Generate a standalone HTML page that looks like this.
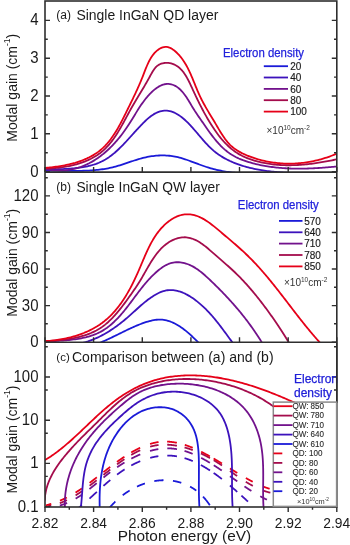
<!DOCTYPE html><html><head><meta charset="utf-8"><style>html,body{margin:0;padding:0;background:#fff;}svg{display:block;}text{font-family:"Liberation Sans",sans-serif;}svg{will-change:transform;}</style></head><body><svg width="350" height="545" viewBox="0 0 350 545"><rect width="350" height="545" fill="#fff"/><defs><clipPath id="ca"><rect x="45.0" y="1.0" width="291.8" height="171.1"/></clipPath><clipPath id="cb"><rect x="45.0" y="172.1" width="291.8" height="170.20000000000002"/></clipPath><clipPath id="cc"><rect x="45.0" y="342.3" width="291.8" height="164.7"/></clipPath></defs><g clip-path="url(#ca)"><path d="M45.58,170.70 L47.08,170.68 L48.58,170.67 L50.09,170.66 L51.59,170.66 L53.09,170.66 L54.59,170.66 L56.10,170.68 L57.60,170.69 L59.11,170.71 L60.61,170.72 L62.11,170.74 L63.62,170.76 L65.12,170.78 L66.62,170.80 L68.13,170.82 L69.63,170.84 L71.13,170.85 L72.63,170.86 L74.13,170.86 L75.63,170.86 L77.13,170.85 L78.63,170.84 L80.13,170.82 L81.62,170.80 L83.12,170.76 L84.61,170.72 L86.11,170.67 L87.60,170.60 L89.09,170.53 L90.57,170.44 L92.06,170.34 L93.55,170.23 L95.03,170.11 L96.51,169.97 L97.99,169.81 L99.47,169.64 L100.94,169.46 L102.42,169.25 L103.89,169.03 L105.35,168.79 L106.82,168.54 L108.28,168.26 L109.75,167.96 L111.20,167.64 L112.66,167.30 L114.11,166.94 L115.56,166.55 L117.01,166.15 L118.46,165.72 L119.90,165.28 L121.34,164.83 L122.78,164.36 L124.22,163.88 L125.66,163.40 L127.10,162.92 L128.53,162.43 L129.97,161.94 L131.41,161.46 L132.85,160.98 L134.28,160.51 L135.72,160.04 L137.17,159.59 L138.61,159.16 L140.05,158.74 L141.50,158.34 L142.95,157.97 L144.40,157.61 L145.86,157.28 L147.32,156.98 L148.78,156.70 L150.24,156.45 L151.70,156.22 L153.17,156.03 L154.63,155.86 L156.10,155.71 L157.56,155.60 L159.03,155.51 L160.49,155.46 L161.96,155.43 L163.42,155.44 L164.89,155.47 L166.35,155.54 L167.81,155.63 L169.27,155.76 L170.72,155.93 L172.17,156.12 L173.62,156.35 L175.07,156.61 L176.51,156.91 L177.95,157.24 L179.39,157.60 L180.82,157.99 L182.25,158.40 L183.68,158.84 L185.11,159.29 L186.53,159.77 L187.96,160.26 L189.38,160.76 L190.80,161.28 L192.22,161.80 L193.64,162.33 L195.06,162.87 L196.48,163.40 L197.91,163.94 L199.33,164.47 L200.75,164.99 L202.18,165.51 L203.61,166.02 L205.04,166.51 L206.47,166.99 L207.90,167.45 L209.34,167.89 L210.78,168.31 L212.22,168.72 L213.67,169.10 L215.12,169.46 L216.57,169.81 L218.02,170.14 L219.48,170.45 L220.94,170.75 L222.40,171.03 L223.86,171.29 L225.33,171.54 L226.79,171.77 L228.26,171.99 L229.73,172.20 L231.21,172.39 L232.68,172.56 L234.16,172.73 L235.64,172.88 L237.12,173.01 L238.61,173.14 L240.09,173.26 L241.58,173.36 L243.06,173.45 L244.55,173.54 L246.05,173.61 L247.54,173.67 L249.03,173.73 L250.53,173.77 L252.02,173.81 L253.52,173.84 L255.02,173.86 L256.52,173.87 L258.02,173.88 L259.52,173.88 L261.02,173.88 L262.53,173.87 L264.03,173.85 L265.54,173.84 L267.04,173.81 L268.55,173.78 L270.05,173.75 L271.56,173.72 L273.07,173.68 L274.58,173.64 L276.08,173.60 L277.59,173.56 L279.10,173.51 L280.61,173.47 L282.12,173.42 L283.63,173.38 L285.14,173.33 L286.64,173.29 L288.15,173.25 L289.66,173.21 L291.17,173.17 L292.68,173.14 L294.18,173.10 L295.69,173.07 L297.20,173.05 L298.70,173.03 L300.21,173.01 L301.71,173.00 L303.22,172.99 L304.72,172.99 L306.22,172.99 L307.72,173.00 L309.22,173.02 L310.72,173.05 L312.22,173.08 L313.72,173.12 L315.21,173.17 L316.71,173.23 L318.20,173.30 L319.69,173.38 L321.19,173.47 L322.67,173.56 L324.16,173.67 L325.65,173.80 L327.13,173.93 L328.62,174.07 L330.10,174.23 L331.58,174.40 L333.05,174.58 L334.53,174.78 L336.00,174.99" fill="none" stroke="#1a1ad8" stroke-width="1.8" stroke-linejoin="round" stroke-linecap="round"/><path d="M45.61,169.77 L46.95,169.70 L48.32,169.63 L49.70,169.57 L51.10,169.51 L52.53,169.45 L53.97,169.40 L55.42,169.35 L56.90,169.29 L58.38,169.24 L59.88,169.18 L61.38,169.12 L62.90,169.05 L64.43,168.97 L65.96,168.89 L67.50,168.80 L69.04,168.70 L70.59,168.58 L72.14,168.46 L73.69,168.32 L75.23,168.16 L76.78,168.00 L78.32,167.81 L79.86,167.60 L81.40,167.38 L82.92,167.13 L84.44,166.87 L85.95,166.58 L87.45,166.26 L88.93,165.92 L90.40,165.56 L91.86,165.17 L93.30,164.74 L94.72,164.29 L96.13,163.81 L97.51,163.29 L98.88,162.74 L100.22,162.16 L101.54,161.54 L102.83,160.89 L104.10,160.20 L105.36,159.48 L106.59,158.73 L107.80,157.95 L109.00,157.14 L110.18,156.30 L111.34,155.44 L112.49,154.55 L113.62,153.64 L114.74,152.71 L115.84,151.75 L116.94,150.77 L118.02,149.78 L119.09,148.77 L120.15,147.73 L121.21,146.69 L122.26,145.63 L123.30,144.55 L124.33,143.47 L125.37,142.37 L126.39,141.26 L127.42,140.15 L128.44,139.02 L129.46,137.89 L130.48,136.76 L131.51,135.62 L132.53,134.48 L133.56,133.33 L134.59,132.19 L135.62,131.05 L136.66,129.91 L137.71,128.77 L138.76,127.64 L139.82,126.51 L140.89,125.39 L141.97,124.27 L143.06,123.17 L144.16,122.07 L145.28,121.00 L146.41,119.94 L147.55,118.92 L148.71,117.92 L149.89,116.97 L151.08,116.06 L152.30,115.20 L153.54,114.39 L154.80,113.65 L156.08,112.98 L157.39,112.38 L158.72,111.86 L160.07,111.42 L161.44,111.07 L162.82,110.81 L164.21,110.65 L165.60,110.60 L166.98,110.65 L168.36,110.81 L169.73,111.08 L171.09,111.44 L172.43,111.88 L173.77,112.42 L175.09,113.03 L176.40,113.71 L177.69,114.46 L178.96,115.27 L180.21,116.13 L181.44,117.04 L182.65,118.00 L183.84,118.99 L185.00,120.01 L186.14,121.06 L187.25,122.12 L188.33,123.21 L189.40,124.31 L190.44,125.42 L191.47,126.54 L192.49,127.68 L193.49,128.82 L194.49,129.97 L195.48,131.12 L196.47,132.27 L197.45,133.43 L198.43,134.59 L199.40,135.74 L200.38,136.89 L201.36,138.04 L202.34,139.18 L203.33,140.31 L204.32,141.44 L205.32,142.55 L206.33,143.65 L207.36,144.73 L208.39,145.80 L209.43,146.85 L210.49,147.88 L211.57,148.89 L212.67,149.88 L213.78,150.85 L214.91,151.79 L216.07,152.70 L217.25,153.59 L218.45,154.45 L219.67,155.28 L220.91,156.09 L222.17,156.87 L223.44,157.62 L224.74,158.35 L226.05,159.06 L227.37,159.74 L228.71,160.40 L230.05,161.04 L231.42,161.65 L232.79,162.24 L234.17,162.81 L235.56,163.36 L236.96,163.89 L238.36,164.40 L239.77,164.89 L241.18,165.36 L242.60,165.81 L244.03,166.24 L245.46,166.66 L246.89,167.05 L248.33,167.43 L249.77,167.80 L251.22,168.14 L252.67,168.48 L254.13,168.79 L255.59,169.09 L257.05,169.38 L258.51,169.65 L259.98,169.91 L261.45,170.16 L262.93,170.39 L264.41,170.61 L265.89,170.82 L267.37,171.02 L268.86,171.20 L270.34,171.38 L271.83,171.54 L273.33,171.70 L274.82,171.84 L276.32,171.98 L277.81,172.11 L279.31,172.23 L280.81,172.34 L282.32,172.45 L283.82,172.55 L285.32,172.64 L286.83,172.73 L288.33,172.81 L289.84,172.88 L291.34,172.95 L292.85,173.02 L294.35,173.08 L295.86,173.14 L297.37,173.20 L298.87,173.25 L300.38,173.31 L301.88,173.36 L303.39,173.41 L304.89,173.45 L306.39,173.50 L307.89,173.55 L309.39,173.60 L310.89,173.65 L312.38,173.70 L313.88,173.75 L315.37,173.80 L316.86,173.86 L318.35,173.92 L319.84,173.99 L321.32,174.05 L322.80,174.12 L324.28,174.20 L325.75,174.28 L327.23,174.37 L328.69,174.46 L330.16,174.56 L331.62,174.67 L333.08,174.78 L334.54,174.90 L335.99,175.03" fill="none" stroke="#3c12bc" stroke-width="1.8" stroke-linejoin="round" stroke-linecap="round"/><path d="M45.60,169.00 L47.29,169.34 L48.97,169.63 L50.64,169.87 L52.29,170.08 L53.93,170.24 L55.55,170.36 L57.16,170.45 L58.76,170.49 L60.34,170.49 L61.91,170.46 L63.46,170.39 L65.00,170.28 L66.53,170.13 L68.05,169.95 L69.55,169.73 L71.03,169.47 L72.51,169.19 L73.97,168.86 L75.41,168.51 L76.85,168.12 L78.27,167.70 L79.67,167.25 L81.06,166.77 L82.44,166.25 L83.81,165.71 L85.16,165.14 L86.50,164.54 L87.83,163.91 L89.14,163.26 L90.44,162.57 L91.72,161.87 L92.99,161.13 L94.25,160.37 L95.50,159.59 L96.73,158.78 L97.95,157.95 L99.16,157.10 L100.35,156.22 L101.53,155.32 L102.70,154.41 L103.85,153.47 L104.99,152.51 L106.12,151.53 L107.23,150.54 L108.33,149.52 L109.42,148.49 L110.49,147.44 L111.56,146.38 L112.60,145.30 L113.64,144.20 L114.66,143.09 L115.67,141.97 L116.67,140.83 L117.65,139.68 L118.62,138.52 L119.58,137.34 L120.53,136.16 L121.46,134.96 L122.38,133.76 L123.29,132.54 L124.18,131.32 L125.06,130.09 L125.93,128.85 L126.79,127.61 L127.63,126.36 L128.46,125.10 L129.28,123.84 L130.08,122.57 L130.88,121.30 L131.66,120.02 L132.45,118.75 L133.22,117.47 L134.00,116.20 L134.77,114.92 L135.55,113.65 L136.32,112.38 L137.11,111.11 L137.90,109.84 L138.70,108.59 L139.51,107.33 L140.33,106.09 L141.16,104.85 L142.02,103.62 L142.89,102.40 L143.78,101.19 L144.69,99.99 L145.63,98.80 L146.59,97.62 L147.57,96.46 L148.59,95.31 L149.64,94.18 L150.72,93.07 L151.84,91.97 L152.98,90.91 L154.16,89.89 L155.36,88.91 L156.59,88.00 L157.84,87.15 L159.12,86.38 L160.42,85.70 L161.73,85.11 L163.06,84.63 L164.41,84.26 L165.77,84.02 L167.14,83.91 L168.52,83.93 L169.89,84.08 L171.26,84.36 L172.60,84.75 L173.91,85.26 L175.19,85.87 L176.42,86.58 L177.60,87.38 L178.75,88.26 L179.85,89.22 L180.91,90.26 L181.95,91.36 L182.95,92.52 L183.91,93.73 L184.86,94.98 L185.77,96.28 L186.67,97.60 L187.54,98.95 L188.40,100.32 L189.24,101.70 L190.07,103.08 L190.89,104.47 L191.71,105.84 L192.51,107.20 L193.32,108.53 L194.12,109.84 L194.93,111.12 L195.74,112.35 L196.55,113.57 L197.37,114.76 L198.18,115.94 L199.00,117.12 L199.83,118.29 L200.65,119.47 L201.48,120.67 L202.31,121.87 L203.15,123.09 L203.99,124.31 L204.84,125.54 L205.69,126.77 L206.55,128.00 L207.42,129.24 L208.29,130.48 L209.18,131.71 L210.07,132.94 L210.98,134.16 L211.89,135.38 L212.82,136.59 L213.76,137.79 L214.71,138.98 L215.67,140.15 L216.65,141.31 L217.65,142.45 L218.66,143.57 L219.69,144.68 L220.73,145.76 L221.79,146.82 L222.87,147.86 L223.97,148.87 L225.09,149.85 L226.23,150.80 L227.39,151.73 L228.58,152.61 L229.78,153.47 L231.01,154.29 L232.26,155.07 L233.54,155.82 L234.84,156.53 L236.15,157.21 L237.49,157.85 L238.84,158.47 L240.21,159.05 L241.59,159.61 L242.99,160.15 L244.39,160.65 L245.81,161.14 L247.23,161.61 L248.66,162.05 L250.10,162.48 L251.54,162.89 L252.98,163.28 L254.43,163.66 L255.88,164.02 L257.34,164.37 L258.79,164.70 L260.25,165.01 L261.72,165.31 L263.19,165.60 L264.66,165.87 L266.13,166.13 L267.61,166.37 L269.08,166.60 L270.57,166.81 L272.05,167.01 L273.53,167.20 L275.02,167.38 L276.51,167.54 L278.00,167.69 L279.50,167.83 L280.99,167.96 L282.49,168.07 L283.99,168.18 L285.48,168.27 L286.98,168.35 L288.49,168.42 L289.99,168.48 L291.49,168.53 L293.00,168.57 L294.50,168.60 L296.00,168.63 L297.51,168.64 L299.01,168.64 L300.52,168.64 L302.03,168.62 L303.53,168.60 L305.04,168.57 L306.54,168.53 L308.04,168.49 L309.55,168.44 L311.05,168.38 L312.55,168.31 L314.05,168.24 L315.55,168.16 L317.05,168.08 L318.55,167.99 L320.05,167.89 L321.54,167.79 L323.03,167.68 L324.53,167.57 L326.02,167.46 L327.50,167.34 L328.99,167.21 L330.47,167.09 L331.95,166.95 L333.43,166.82 L334.91,166.68 L336.38,166.54" fill="none" stroke="#72128c" stroke-width="1.8" stroke-linejoin="round" stroke-linecap="round"/><path d="M45.60,168.40 L46.94,168.40 L48.30,168.38 L49.68,168.34 L51.08,168.29 L52.50,168.21 L53.93,168.12 L55.38,168.01 L56.84,167.89 L58.32,167.74 L59.80,167.57 L61.30,167.38 L62.80,167.17 L64.31,166.94 L65.82,166.69 L67.33,166.42 L68.85,166.13 L70.37,165.81 L71.89,165.47 L73.41,165.10 L74.92,164.71 L76.43,164.30 L77.93,163.86 L79.42,163.40 L80.91,162.91 L82.38,162.40 L83.84,161.86 L85.29,161.29 L86.73,160.70 L88.15,160.07 L89.55,159.42 L90.93,158.75 L92.29,158.04 L93.63,157.30 L94.95,156.54 L96.24,155.74 L97.51,154.92 L98.74,154.06 L99.95,153.18 L101.13,152.26 L102.28,151.31 L103.41,150.33 L104.50,149.32 L105.57,148.29 L106.61,147.23 L107.63,146.15 L108.62,145.04 L109.60,143.91 L110.54,142.76 L111.47,141.59 L112.38,140.40 L113.27,139.19 L114.14,137.97 L115.00,136.73 L115.84,135.48 L116.66,134.22 L117.47,132.94 L118.27,131.65 L119.05,130.36 L119.82,129.05 L120.58,127.74 L121.34,126.42 L122.08,125.10 L122.82,123.78 L123.55,122.45 L124.27,121.12 L124.99,119.79 L125.71,118.47 L126.42,117.14 L127.13,115.82 L127.84,114.50 L128.55,113.20 L129.26,111.89 L129.98,110.60 L130.70,109.31 L131.42,108.04 L132.14,106.77 L132.87,105.51 L133.60,104.26 L134.33,103.01 L135.06,101.76 L135.80,100.52 L136.54,99.28 L137.29,98.04 L138.03,96.79 L138.78,95.55 L139.53,94.30 L140.29,93.05 L141.04,91.79 L141.80,90.52 L142.56,89.25 L143.32,87.96 L144.09,86.67 L144.85,85.36 L145.62,84.05 L146.39,82.71 L147.16,81.37 L147.93,80.00 L148.70,78.62 L149.48,77.22 L150.25,75.80 L151.03,74.37 L151.83,72.94 L152.65,71.55 L153.50,70.20 L154.40,68.92 L155.36,67.73 L156.38,66.64 L157.47,65.69 L158.65,64.88 L159.90,64.21 L161.21,63.68 L162.56,63.28 L163.96,63.01 L165.38,62.87 L166.83,62.85 L168.27,62.94 L169.72,63.14 L171.14,63.46 L172.54,63.87 L173.91,64.39 L175.22,65.00 L176.47,65.70 L177.67,66.48 L178.81,67.34 L179.90,68.28 L180.94,69.29 L181.93,70.36 L182.87,71.49 L183.78,72.67 L184.65,73.90 L185.48,75.18 L186.28,76.49 L187.05,77.84 L187.80,79.21 L188.53,80.61 L189.23,82.02 L189.92,83.44 L190.59,84.87 L191.25,86.30 L191.91,87.73 L192.56,89.15 L193.21,90.56 L193.85,91.95 L194.50,93.34 L195.14,94.71 L195.79,96.07 L196.43,97.42 L197.08,98.76 L197.73,100.09 L198.38,101.42 L199.03,102.73 L199.69,104.04 L200.35,105.35 L201.01,106.64 L201.69,107.94 L202.36,109.23 L203.05,110.51 L203.74,111.80 L204.43,113.08 L205.14,114.36 L205.86,115.63 L206.58,116.91 L207.32,118.19 L208.06,119.47 L208.82,120.75 L209.59,122.02 L210.36,123.30 L211.16,124.57 L211.96,125.84 L212.78,127.11 L213.61,128.37 L214.45,129.62 L215.31,130.86 L216.18,132.09 L217.07,133.32 L217.97,134.53 L218.89,135.73 L219.82,136.91 L220.77,138.08 L221.74,139.23 L222.73,140.37 L223.73,141.49 L224.75,142.59 L225.78,143.67 L226.84,144.72 L227.92,145.76 L229.01,146.77 L230.13,147.75 L231.26,148.71 L232.41,149.64 L233.59,150.55 L234.79,151.42 L236.01,152.27 L237.25,153.08 L238.51,153.86 L239.80,154.61 L241.11,155.32 L242.43,156.00 L243.78,156.65 L245.15,157.27 L246.53,157.86 L247.92,158.42 L249.33,158.96 L250.75,159.46 L252.18,159.94 L253.62,160.40 L255.07,160.83 L256.52,161.23 L257.98,161.62 L259.44,161.98 L260.91,162.32 L262.38,162.64 L263.84,162.94 L265.31,163.22 L266.79,163.48 L268.26,163.72 L269.73,163.95 L271.21,164.15 L272.69,164.34 L274.17,164.50 L275.65,164.65 L277.13,164.79 L278.61,164.90 L280.10,165.00 L281.58,165.08 L283.07,165.15 L284.55,165.20 L286.04,165.23 L287.53,165.25 L289.01,165.26 L290.50,165.25 L291.99,165.22 L293.48,165.18 L294.97,165.13 L296.46,165.07 L297.95,164.99 L299.44,164.90 L300.93,164.79 L302.42,164.68 L303.91,164.55 L305.40,164.41 L306.88,164.26 L308.37,164.10 L309.86,163.93 L311.35,163.75 L312.83,163.56 L314.32,163.35 L315.80,163.14 L317.28,162.92 L318.76,162.70 L320.25,162.46 L321.73,162.21 L323.20,161.96 L324.68,161.70 L326.16,161.43 L327.63,161.16 L329.10,160.88 L330.57,160.59 L332.04,160.30 L333.51,160.00 L334.97,159.70 L336.44,159.39" fill="none" stroke="#a40c4c" stroke-width="1.8" stroke-linejoin="round" stroke-linecap="round"/><path d="M45.69,167.81 L47.11,167.70 L48.53,167.57 L49.97,167.43 L51.42,167.28 L52.88,167.12 L54.34,166.94 L55.82,166.75 L57.30,166.55 L58.78,166.33 L60.27,166.09 L61.76,165.84 L63.26,165.57 L64.75,165.29 L66.25,164.99 L67.74,164.67 L69.23,164.33 L70.72,163.97 L72.21,163.59 L73.68,163.19 L75.16,162.77 L76.62,162.32 L78.08,161.86 L79.53,161.37 L80.96,160.86 L82.39,160.33 L83.80,159.77 L85.20,159.18 L86.58,158.58 L87.95,157.94 L89.30,157.28 L90.63,156.59 L91.94,155.87 L93.24,155.13 L94.51,154.36 L95.76,153.55 L96.98,152.72 L98.18,151.86 L99.36,150.97 L100.51,150.04 L101.63,149.08 L102.73,148.10 L103.80,147.08 L104.85,146.04 L105.87,144.97 L106.87,143.87 L107.84,142.75 L108.80,141.61 L109.73,140.44 L110.65,139.26 L111.54,138.05 L112.41,136.83 L113.27,135.59 L114.11,134.33 L114.93,133.06 L115.74,131.77 L116.53,130.47 L117.31,129.17 L118.08,127.85 L118.83,126.52 L119.57,125.18 L120.30,123.84 L121.02,122.50 L121.72,121.15 L122.42,119.80 L123.12,118.44 L123.80,117.09 L124.48,115.73 L125.15,114.38 L125.82,113.04 L126.48,111.69 L127.14,110.35 L127.79,109.02 L128.45,107.70 L129.10,106.38 L129.74,105.07 L130.39,103.76 L131.03,102.45 L131.67,101.15 L132.30,99.84 L132.94,98.54 L133.56,97.23 L134.19,95.92 L134.81,94.61 L135.43,93.30 L136.05,91.98 L136.66,90.65 L137.27,89.32 L137.88,87.97 L138.48,86.62 L139.08,85.26 L139.67,83.89 L140.26,82.51 L140.85,81.11 L141.43,79.70 L142.01,78.28 L142.59,76.83 L143.16,75.38 L143.73,73.90 L144.30,72.42 L144.87,70.93 L145.45,69.44 L146.05,67.95 L146.66,66.47 L147.29,65.01 L147.94,63.56 L148.61,62.14 L149.32,60.74 L150.06,59.38 L150.84,58.05 L151.65,56.76 L152.51,55.52 L153.42,54.33 L154.37,53.20 L155.38,52.12 L156.45,51.12 L157.58,50.18 L158.78,49.32 L160.02,48.55 L161.32,47.89 L162.64,47.38 L163.98,47.02 L165.33,46.85 L166.68,46.87 L168.01,47.11 L169.32,47.53 L170.61,48.11 L171.88,48.82 L173.11,49.65 L174.30,50.55 L175.45,51.51 L176.56,52.51 L177.63,53.54 L178.66,54.61 L179.65,55.71 L180.60,56.84 L181.52,58.00 L182.41,59.19 L183.26,60.41 L184.09,61.65 L184.88,62.91 L185.65,64.20 L186.40,65.51 L187.12,66.84 L187.82,68.18 L188.50,69.54 L189.17,70.92 L189.81,72.30 L190.45,73.70 L191.07,75.11 L191.68,76.53 L192.28,77.95 L192.87,79.38 L193.46,80.81 L194.04,82.24 L194.62,83.67 L195.20,85.11 L195.78,86.54 L196.36,87.96 L196.95,89.38 L197.54,90.79 L198.14,92.19 L198.75,93.59 L199.37,94.97 L200.01,96.33 L200.65,97.68 L201.31,99.02 L201.99,100.35 L202.67,101.66 L203.37,102.97 L204.07,104.26 L204.79,105.55 L205.51,106.83 L206.24,108.11 L206.98,109.38 L207.73,110.64 L208.48,111.91 L209.23,113.17 L209.99,114.43 L210.76,115.70 L211.52,116.96 L212.29,118.23 L213.06,119.50 L213.83,120.78 L214.59,122.07 L215.36,123.36 L216.13,124.66 L216.89,125.97 L217.66,127.28 L218.43,128.59 L219.20,129.91 L219.98,131.22 L220.78,132.52 L221.58,133.81 L222.40,135.09 L223.24,136.36 L224.10,137.60 L224.97,138.83 L225.88,140.02 L226.81,141.20 L227.76,142.34 L228.75,143.45 L229.78,144.52 L230.83,145.55 L231.93,146.54 L233.06,147.49 L234.23,148.40 L235.43,149.27 L236.67,150.10 L237.93,150.89 L239.21,151.65 L240.52,152.38 L241.86,153.08 L243.21,153.74 L244.58,154.38 L245.96,154.99 L247.35,155.58 L248.76,156.14 L250.17,156.68 L251.59,157.20 L253.02,157.70 L254.45,158.18 L255.88,158.64 L257.32,159.08 L258.77,159.50 L260.22,159.89 L261.67,160.27 L263.13,160.63 L264.60,160.97 L266.06,161.28 L267.53,161.58 L269.01,161.85 L270.48,162.11 L271.96,162.35 L273.44,162.56 L274.93,162.76 L276.41,162.94 L277.90,163.09 L279.39,163.23 L280.88,163.35 L282.38,163.45 L283.87,163.53 L285.37,163.59 L286.86,163.63 L288.36,163.65 L289.85,163.65 L291.35,163.63 L292.85,163.59 L294.34,163.53 L295.84,163.46 L297.33,163.36 L298.82,163.25 L300.31,163.11 L301.80,162.96 L303.29,162.79 L304.78,162.60 L306.26,162.39 L307.74,162.16 L309.22,161.92 L310.69,161.65 L312.16,161.37 L313.63,161.07 L315.10,160.74 L316.56,160.41 L318.02,160.05 L319.47,159.67 L320.92,159.28 L322.36,158.86 L323.80,158.43 L325.24,157.98 L326.66,157.52 L328.09,157.03 L329.50,156.53 L330.91,156.01 L332.32,155.47 L333.72,154.91 L335.11,154.33 L336.49,153.74" fill="none" stroke="#e60018" stroke-width="1.8" stroke-linejoin="round" stroke-linecap="round"/></g><g clip-path="url(#cb)"><path d="M43.99,341.95 L45.70,342.76 L47.40,343.52 L49.08,344.22 L50.75,344.87 L52.41,345.46 L54.05,346.00 L55.67,346.49 L57.29,346.93 L58.89,347.32 L60.48,347.66 L62.05,347.96 L63.62,348.20 L65.17,348.41 L66.71,348.57 L68.24,348.68 L69.76,348.76 L71.27,348.80 L72.77,348.79 L74.26,348.75 L75.74,348.67 L77.21,348.56 L78.67,348.41 L80.12,348.22 L81.57,348.01 L83.01,347.76 L84.44,347.49 L85.86,347.18 L87.28,346.85 L88.69,346.48 L90.09,346.10 L91.49,345.69 L92.89,345.25 L94.28,344.80 L95.66,344.32 L97.04,343.82 L98.41,343.30 L99.78,342.77 L101.15,342.21 L102.52,341.65 L103.88,341.07 L105.24,340.47 L106.59,339.86 L107.95,339.24 L109.30,338.62 L110.66,337.98 L112.01,337.33 L113.36,336.68 L114.71,336.02 L116.06,335.36 L117.41,334.70 L118.77,334.03 L120.12,333.36 L121.48,332.69 L122.83,332.03 L124.19,331.36 L125.55,330.70 L126.92,330.04 L128.29,329.39 L129.66,328.75 L131.03,328.11 L132.41,327.49 L133.79,326.87 L135.18,326.26 L136.57,325.67 L137.97,325.09 L139.38,324.53 L140.79,323.98 L142.20,323.45 L143.63,322.93 L145.05,322.44 L146.49,321.97 L147.93,321.53 L149.37,321.13 L150.82,320.76 L152.26,320.43 L153.71,320.15 L155.15,319.92 L156.60,319.75 L158.04,319.64 L159.47,319.59 L160.90,319.61 L162.33,319.71 L163.74,319.88 L165.15,320.12 L166.55,320.42 L167.94,320.79 L169.32,321.23 L170.69,321.72 L172.05,322.27 L173.40,322.87 L174.74,323.52 L176.07,324.22 L177.38,324.96 L178.68,325.74 L179.97,326.56 L181.24,327.42 L182.50,328.31 L183.74,329.23 L184.97,330.17 L186.18,331.14 L187.37,332.13 L188.55,333.13 L189.71,334.16 L190.85,335.19 L191.97,336.23 L193.07,337.28 L194.16,338.33 L195.22,339.38 L196.26,340.43 L197.28,341.47 L198.28,342.50" fill="none" stroke="#1a1ad8" stroke-width="1.8" stroke-linejoin="round" stroke-linecap="round"/><path d="M43.98,341.87 L45.61,342.36 L47.23,342.81 L48.84,343.22 L50.45,343.59 L52.04,343.92 L53.63,344.21 L55.21,344.46 L56.79,344.68 L58.35,344.85 L59.91,344.99 L61.46,345.10 L63.00,345.16 L64.54,345.19 L66.06,345.19 L67.58,345.16 L69.09,345.09 L70.59,344.98 L72.08,344.85 L73.57,344.68 L75.05,344.49 L76.52,344.26 L77.98,344.00 L79.43,343.71 L80.87,343.40 L82.31,343.05 L83.73,342.68 L85.15,342.28 L86.56,341.86 L87.97,341.41 L89.36,340.93 L90.74,340.43 L92.12,339.91 L93.49,339.36 L94.85,338.79 L96.20,338.19 L97.54,337.58 L98.88,336.94 L100.20,336.29 L101.52,335.61 L102.82,334.91 L104.12,334.20 L105.41,333.47 L106.69,332.72 L107.97,331.95 L109.23,331.17 L110.48,330.37 L111.73,329.55 L112.97,328.72 L114.20,327.88 L115.41,327.02 L116.62,326.15 L117.83,325.27 L119.02,324.37 L120.20,323.47 L121.37,322.55 L122.54,321.63 L123.69,320.69 L124.84,319.75 L125.98,318.80 L127.10,317.84 L128.22,316.87 L129.33,315.90 L130.43,314.92 L131.53,313.93 L132.62,312.95 L133.70,311.96 L134.79,310.97 L135.88,309.97 L136.97,308.98 L138.06,307.99 L139.16,307.01 L140.28,306.02 L141.40,305.04 L142.53,304.07 L143.68,303.11 L144.85,302.15 L146.04,301.20 L147.24,300.26 L148.47,299.33 L149.73,298.42 L151.01,297.52 L152.31,296.64 L153.64,295.78 L154.98,294.97 L156.34,294.19 L157.72,293.46 L159.11,292.79 L160.50,292.17 L161.91,291.63 L163.32,291.16 L164.73,290.77 L166.14,290.47 L167.56,290.25 L168.97,290.12 L170.38,290.07 L171.79,290.09 L173.20,290.19 L174.60,290.36 L176.00,290.59 L177.39,290.90 L178.77,291.26 L180.15,291.69 L181.52,292.17 L182.88,292.70 L184.23,293.29 L185.57,293.93 L186.90,294.61 L188.22,295.34 L189.53,296.10 L190.82,296.90 L192.10,297.74 L193.36,298.61 L194.61,299.50 L195.84,300.42 L197.06,301.37 L198.25,302.33 L199.43,303.32 L200.59,304.31 L201.73,305.32 L202.85,306.34 L203.95,307.38 L205.03,308.42 L206.10,309.48 L207.15,310.54 L208.18,311.62 L209.20,312.71 L210.21,313.80 L211.20,314.91 L212.19,316.02 L213.16,317.15 L214.11,318.28 L215.06,319.42 L216.00,320.56 L216.93,321.72 L217.86,322.88 L218.77,324.04 L219.68,325.22 L220.58,326.40 L221.48,327.58 L222.38,328.77 L223.27,329.96 L224.15,331.16 L225.04,332.36 L225.92,333.57 L226.81,334.78 L227.69,335.99 L228.58,337.20 L229.47,338.42 L230.35,339.63 L231.25,340.85 L232.14,342.07" fill="none" stroke="#3c12bc" stroke-width="1.8" stroke-linejoin="round" stroke-linecap="round"/><path d="M44.00,341.68 L45.38,341.58 L46.78,341.49 L48.20,341.40 L49.63,341.31 L51.08,341.23 L52.54,341.15 L54.00,341.07 L55.48,340.98 L56.97,340.90 L58.47,340.81 L59.98,340.71 L61.49,340.61 L63.01,340.51 L64.53,340.39 L66.05,340.27 L67.58,340.14 L69.11,339.99 L70.64,339.83 L72.17,339.66 L73.69,339.47 L75.21,339.27 L76.73,339.05 L78.25,338.81 L79.76,338.55 L81.26,338.28 L82.75,337.98 L84.23,337.65 L85.71,337.31 L87.17,336.94 L88.62,336.54 L90.06,336.11 L91.48,335.66 L92.89,335.18 L94.28,334.66 L95.65,334.12 L97.01,333.54 L98.34,332.93 L99.66,332.28 L100.95,331.59 L102.23,330.87 L103.48,330.12 L104.71,329.33 L105.92,328.51 L107.12,327.66 L108.29,326.79 L109.45,325.88 L110.59,324.94 L111.71,323.99 L112.82,323.00 L113.91,322.00 L114.98,320.97 L116.04,319.92 L117.09,318.85 L118.13,317.77 L119.15,316.67 L120.15,315.55 L121.15,314.42 L122.14,313.28 L123.11,312.12 L124.07,310.95 L125.03,309.78 L125.98,308.60 L126.91,307.41 L127.84,306.22 L128.76,305.02 L129.68,303.82 L130.59,302.61 L131.49,301.41 L132.39,300.21 L133.29,299.00 L134.19,297.80 L135.08,296.59 L135.98,295.39 L136.88,294.19 L137.78,293.00 L138.68,291.81 L139.59,290.62 L140.50,289.44 L141.42,288.26 L142.35,287.09 L143.29,285.93 L144.23,284.78 L145.19,283.63 L146.16,282.49 L147.14,281.37 L148.13,280.25 L149.14,279.14 L150.17,278.05 L151.21,276.97 L152.27,275.90 L153.34,274.84 L154.44,273.80 L155.56,272.78 L156.70,271.77 L157.87,270.78 L159.05,269.81 L160.26,268.87 L161.48,267.97 L162.73,267.11 L164.00,266.30 L165.28,265.55 L166.58,264.86 L167.90,264.24 L169.23,263.70 L170.58,263.23 L171.95,262.86 L173.32,262.58 L174.71,262.38 L176.11,262.26 L177.51,262.22 L178.92,262.27 L180.32,262.39 L181.73,262.58 L183.13,262.84 L184.53,263.16 L185.92,263.56 L187.30,264.01 L188.67,264.52 L190.02,265.09 L191.36,265.72 L192.67,266.39 L193.97,267.12 L195.25,267.89 L196.50,268.70 L197.75,269.55 L198.97,270.43 L200.18,271.35 L201.38,272.29 L202.56,273.26 L203.73,274.25 L204.89,275.27 L206.04,276.30 L207.18,277.34 L208.30,278.39 L209.42,279.44 L210.54,280.50 L211.64,281.57 L212.74,282.63 L213.84,283.69 L214.93,284.75 L216.01,285.82 L217.08,286.88 L218.15,287.95 L219.21,289.01 L220.27,290.08 L221.32,291.15 L222.36,292.23 L223.40,293.30 L224.43,294.38 L225.46,295.46 L226.48,296.54 L227.49,297.63 L228.50,298.71 L229.50,299.80 L230.50,300.90 L231.49,301.99 L232.47,303.10 L233.45,304.20 L234.42,305.31 L235.39,306.42 L236.35,307.54 L237.31,308.66 L238.25,309.78 L239.20,310.91 L240.14,312.05 L241.07,313.19 L242.00,314.33 L242.92,315.48 L243.83,316.64 L244.74,317.80 L245.65,318.97 L246.55,320.14 L247.44,321.32 L248.33,322.50 L249.22,323.69 L250.09,324.89 L250.97,326.10 L251.83,327.31 L252.70,328.53 L253.55,329.75 L254.41,330.99 L255.25,332.23 L256.09,333.47 L256.93,334.73 L257.76,335.99 L258.59,337.27 L259.41,338.55 L260.23,339.84 L261.04,341.13 L261.85,342.44" fill="none" stroke="#72128c" stroke-width="1.8" stroke-linejoin="round" stroke-linecap="round"/><path d="M44.00,341.42 L45.45,341.33 L46.91,341.23 L48.37,341.13 L49.85,341.03 L51.32,340.92 L52.81,340.80 L54.30,340.68 L55.80,340.55 L57.30,340.42 L58.80,340.27 L60.30,340.11 L61.81,339.95 L63.31,339.77 L64.82,339.57 L66.32,339.37 L67.83,339.15 L69.33,338.92 L70.82,338.67 L72.32,338.40 L73.80,338.11 L75.28,337.81 L76.76,337.49 L78.23,337.15 L79.69,336.79 L81.14,336.40 L82.58,335.99 L84.01,335.56 L85.43,335.11 L86.84,334.63 L88.23,334.12 L89.61,333.59 L90.98,333.03 L92.33,332.44 L93.67,331.82 L94.99,331.18 L96.29,330.50 L97.57,329.79 L98.84,329.04 L100.08,328.27 L101.30,327.46 L102.51,326.62 L103.69,325.74 L104.86,324.84 L106.01,323.91 L107.14,322.95 L108.25,321.97 L109.34,320.96 L110.42,319.93 L111.49,318.87 L112.54,317.80 L113.57,316.71 L114.59,315.60 L115.60,314.47 L116.59,313.33 L117.57,312.18 L118.54,311.01 L119.50,309.84 L120.45,308.65 L121.38,307.46 L122.31,306.26 L123.22,305.05 L124.13,303.84 L125.03,302.63 L125.92,301.41 L126.81,300.20 L127.69,298.99 L128.56,297.78 L129.42,296.57 L130.28,295.37 L131.14,294.17 L131.98,292.97 L132.83,291.77 L133.66,290.57 L134.49,289.37 L135.31,288.16 L136.13,286.95 L136.94,285.73 L137.74,284.50 L138.53,283.26 L139.32,282.01 L140.10,280.75 L140.87,279.47 L141.64,278.18 L142.40,276.88 L143.15,275.56 L143.91,274.24 L144.66,272.92 L145.41,271.58 L146.17,270.25 L146.93,268.92 L147.69,267.58 L148.46,266.25 L149.24,264.93 L150.03,263.61 L150.83,262.30 L151.64,261.00 L152.46,259.71 L153.30,258.44 L154.16,257.18 L155.04,255.94 L155.93,254.73 L156.85,253.53 L157.79,252.35 L158.76,251.21 L159.75,250.08 L160.77,248.99 L161.81,247.93 L162.89,246.90 L164.00,245.91 L165.14,244.95 L166.32,244.03 L167.52,243.16 L168.75,242.33 L170.00,241.56 L171.27,240.83 L172.57,240.17 L173.88,239.56 L175.22,239.02 L176.56,238.54 L177.92,238.13 L179.29,237.80 L180.66,237.55 L182.04,237.37 L183.43,237.28 L184.82,237.27 L186.21,237.36 L187.60,237.53 L188.98,237.78 L190.36,238.11 L191.73,238.52 L193.09,239.00 L194.44,239.55 L195.78,240.15 L197.10,240.82 L198.41,241.55 L199.70,242.32 L200.97,243.14 L202.22,244.01 L203.46,244.91 L204.69,245.85 L205.90,246.81 L207.10,247.79 L208.29,248.80 L209.47,249.81 L210.64,250.84 L211.81,251.87 L212.97,252.90 L214.13,253.92 L215.29,254.93 L216.44,255.94 L217.59,256.94 L218.74,257.93 L219.88,258.92 L221.02,259.90 L222.15,260.89 L223.28,261.87 L224.41,262.84 L225.53,263.82 L226.64,264.80 L227.75,265.78 L228.86,266.76 L229.96,267.75 L231.05,268.74 L232.13,269.73 L233.21,270.74 L234.29,271.74 L235.35,272.76 L236.41,273.78 L237.46,274.82 L238.51,275.86 L239.55,276.91 L240.58,277.96 L241.60,279.03 L242.62,280.10 L243.63,281.18 L244.64,282.27 L245.64,283.36 L246.64,284.46 L247.62,285.57 L248.61,286.68 L249.58,287.80 L250.55,288.92 L251.52,290.06 L252.48,291.19 L253.44,292.34 L254.39,293.49 L255.33,294.64 L256.27,295.80 L257.21,296.96 L258.14,298.13 L259.07,299.30 L259.99,300.48 L260.91,301.66 L261.82,302.85 L262.73,304.04 L263.64,305.23 L264.54,306.43 L265.44,307.63 L266.33,308.83 L267.22,310.04 L268.11,311.25 L268.99,312.46 L269.87,313.68 L270.74,314.90 L271.61,316.12 L272.47,317.35 L273.33,318.57 L274.18,319.81 L275.03,321.04 L275.88,322.27 L276.72,323.51 L277.56,324.75 L278.39,326.00 L279.21,327.24 L280.03,328.49 L280.85,329.74 L281.66,330.99 L282.46,332.24 L283.26,333.49 L284.06,334.75 L284.84,336.01 L285.63,337.27 L286.40,338.53 L287.18,339.79 L287.94,341.05 L288.70,342.31" fill="none" stroke="#a40c4c" stroke-width="1.8" stroke-linejoin="round" stroke-linecap="round"/><path d="M44.03,341.15 L45.47,341.08 L46.91,341.00 L48.37,340.90 L49.83,340.79 L51.30,340.65 L52.78,340.50 L54.26,340.33 L55.74,340.15 L57.23,339.94 L58.72,339.72 L60.21,339.48 L61.71,339.22 L63.20,338.94 L64.70,338.64 L66.19,338.33 L67.68,337.99 L69.17,337.64 L70.65,337.26 L72.13,336.87 L73.61,336.46 L75.08,336.02 L76.54,335.57 L77.99,335.10 L79.44,334.60 L80.88,334.09 L82.31,333.55 L83.73,333.00 L85.13,332.42 L86.53,331.82 L87.91,331.20 L89.28,330.56 L90.63,329.90 L91.97,329.22 L93.30,328.51 L94.60,327.79 L95.89,327.04 L97.16,326.27 L98.41,325.47 L99.65,324.66 L100.86,323.82 L102.05,322.96 L103.22,322.07 L104.37,321.17 L105.50,320.24 L106.62,319.30 L107.71,318.33 L108.78,317.34 L109.84,316.34 L110.88,315.31 L111.90,314.27 L112.91,313.21 L113.89,312.13 L114.86,311.04 L115.82,309.92 L116.76,308.79 L117.68,307.65 L118.59,306.49 L119.48,305.32 L120.36,304.13 L121.22,302.92 L122.07,301.71 L122.91,300.48 L123.73,299.24 L124.54,297.98 L125.34,296.71 L126.12,295.44 L126.89,294.15 L127.66,292.85 L128.41,291.54 L129.14,290.22 L129.87,288.89 L130.59,287.56 L131.30,286.21 L132.00,284.86 L132.68,283.50 L133.36,282.13 L134.04,280.75 L134.70,279.37 L135.35,277.99 L136.00,276.60 L136.64,275.20 L137.27,273.80 L137.90,272.40 L138.51,270.99 L139.13,269.58 L139.73,268.17 L140.34,266.75 L140.94,265.34 L141.53,263.92 L142.13,262.51 L142.73,261.09 L143.32,259.68 L143.93,258.27 L144.53,256.87 L145.14,255.47 L145.75,254.07 L146.38,252.68 L147.01,251.30 L147.65,249.92 L148.30,248.56 L148.96,247.20 L149.64,245.85 L150.33,244.52 L151.03,243.19 L151.75,241.88 L152.49,240.58 L153.25,239.29 L154.03,238.02 L154.82,236.76 L155.65,235.52 L156.49,234.30 L157.36,233.09 L158.25,231.91 L159.18,230.74 L160.12,229.59 L161.10,228.46 L162.11,227.36 L163.15,226.27 L164.23,225.21 L165.33,224.18 L166.47,223.18 L167.63,222.21 L168.82,221.27 L170.04,220.38 L171.28,219.54 L172.55,218.75 L173.83,218.01 L175.14,217.32 L176.46,216.70 L177.80,216.15 L179.16,215.67 L180.53,215.25 L181.91,214.91 L183.30,214.64 L184.69,214.45 L186.08,214.33 L187.48,214.28 L188.87,214.31 L190.26,214.41 L191.64,214.58 L193.01,214.83 L194.37,215.15 L195.72,215.54 L197.06,215.99 L198.40,216.50 L199.72,217.07 L201.03,217.70 L202.33,218.37 L203.63,219.09 L204.92,219.86 L206.20,220.66 L207.47,221.51 L208.73,222.38 L209.98,223.29 L211.23,224.22 L212.47,225.17 L213.71,226.14 L214.93,227.13 L216.15,228.13 L217.37,229.14 L218.58,230.15 L219.78,231.17 L220.98,232.18 L222.17,233.19 L223.35,234.20 L224.53,235.20 L225.71,236.19 L226.88,237.18 L228.04,238.17 L229.20,239.15 L230.35,240.13 L231.50,241.12 L232.64,242.10 L233.78,243.07 L234.91,244.05 L236.03,245.03 L237.15,246.02 L238.26,247.00 L239.37,247.98 L240.47,248.97 L241.57,249.96 L242.65,250.96 L243.74,251.96 L244.81,252.96 L245.89,253.97 L246.95,254.99 L248.01,256.02 L249.06,257.05 L250.11,258.09 L251.15,259.13 L252.18,260.19 L253.21,261.25 L254.23,262.32 L255.25,263.39 L256.26,264.48 L257.27,265.57 L258.27,266.66 L259.27,267.77 L260.26,268.87 L261.25,269.99 L262.23,271.11 L263.21,272.23 L264.19,273.36 L265.16,274.50 L266.13,275.64 L267.09,276.79 L268.05,277.94 L269.00,279.09 L269.96,280.25 L270.91,281.41 L271.85,282.57 L272.80,283.74 L273.74,284.92 L274.68,286.09 L275.61,287.27 L276.55,288.45 L277.48,289.63 L278.41,290.82 L279.34,292.01 L280.27,293.20 L281.19,294.39 L282.12,295.58 L283.04,296.78 L283.96,297.97 L284.88,299.17 L285.80,300.36 L286.72,301.56 L287.64,302.76 L288.56,303.96 L289.47,305.16 L290.39,306.35 L291.31,307.55 L292.23,308.75 L293.15,309.94 L294.07,311.14 L294.99,312.33 L295.91,313.52 L296.83,314.71 L297.75,315.90 L298.68,317.09 L299.60,318.27 L300.53,319.45 L301.46,320.63 L302.39,321.80 L303.33,322.98 L304.26,324.15 L305.20,325.31 L306.14,326.48 L307.08,327.63 L308.03,328.79 L308.97,329.94 L309.93,331.09 L310.88,332.23 L311.84,333.36 L312.80,334.49 L313.76,335.62 L314.73,336.74 L315.71,337.86 L316.68,338.97 L317.66,340.07 L318.65,341.17 L319.64,342.26" fill="none" stroke="#e60018" stroke-width="1.8" stroke-linejoin="round" stroke-linecap="round"/></g><g clip-path="url(#cc)"><path d="M106.03,512.39 L106.12,512.26 L106.22,512.13 L106.31,512.00 L106.40,511.87 L106.50,511.74 L106.59,511.61 L106.69,511.48 L106.78,511.35 L106.88,511.22 L106.97,511.09 L107.07,510.96 L107.16,510.83 L107.26,510.70 L107.36,510.57 L107.45,510.44 L107.55,510.32 L107.65,510.19 L107.74,510.06 L107.84,509.93 L107.94,509.80 L108.04,509.68 L108.14,509.55 L108.24,509.42 L108.34,509.30 L108.44,509.17 L108.54,509.04 L108.64,508.92 L108.74,508.79 L108.84,508.67 L108.94,508.54 L109.04,508.42 L109.14,508.29 L109.24,508.17 L109.35,508.04 L109.45,507.92 L109.55,507.79 L109.65,507.67 L109.76,507.55 L109.86,507.42 L109.96,507.30 L110.07,507.18 L110.17,507.05 L110.28,506.93 L110.38,506.81 L110.49,506.69 L110.59,506.56 L110.70,506.44 L110.80,506.32 L110.91,506.20 L111.02,506.08 L111.12,505.96 L111.23,505.84 L111.34,505.72 L111.44,505.59 L111.55,505.47 L111.66,505.35 L111.77,505.24 L111.88,505.12 L111.98,505.00 L112.09,504.88 L112.20,504.76 L112.31,504.64 L112.42,504.52 L112.53,504.40 L112.64,504.29 L112.75,504.17 L112.86,504.05 L112.97,503.93 L113.09,503.82 L113.20,503.70 L113.31,503.58 L113.42,503.47 L113.53,503.35 L113.64,503.23 L113.76,503.12 L113.87,503.00 L113.98,502.89 L114.10,502.77 L114.21,502.66 L114.32,502.54 L114.44,502.43 L114.55,502.31 L114.67,502.20 L114.78,502.09 L114.90,501.97 L115.01,501.86 L115.13,501.75 L115.24,501.63 L115.36,501.52 M122.72,495.21 L122.84,495.11 L122.97,495.02 L123.10,494.92 L123.23,494.82 L123.36,494.73 L123.49,494.63 L123.62,494.54 L123.75,494.44 L123.88,494.35 L124.01,494.25 L124.14,494.16 L124.27,494.06 L124.40,493.97 L124.54,493.87 L124.67,493.78 L124.80,493.69 L124.93,493.59 L125.06,493.50 L125.19,493.41 L125.33,493.32 L125.46,493.22 L125.59,493.13 L125.72,493.04 L125.86,492.95 L125.99,492.86 L126.12,492.77 L126.26,492.68 L126.39,492.59 L126.52,492.50 L126.66,492.41 L126.79,492.32 L126.93,492.23 L127.06,492.14 L127.19,492.05 L127.33,491.96 L127.46,491.88 L127.60,491.79 L127.73,491.70 L127.87,491.62 L128.01,491.53 L128.14,491.44 L128.28,491.36 L128.41,491.27 L128.55,491.18 L128.69,491.10 L128.82,491.01 L128.96,490.93 L129.10,490.85 L129.23,490.76 L129.37,490.68 L129.51,490.59 L129.64,490.51 M136.98,486.60 L137.13,486.53 L137.27,486.47 L137.42,486.40 L137.56,486.33 L137.71,486.27 L137.85,486.20 L138.00,486.14 L138.14,486.07 L138.29,486.01 L138.43,485.95 L138.58,485.88 L138.72,485.82 L138.87,485.76 L139.02,485.69 L139.16,485.63 L139.31,485.57 L139.45,485.51 L139.60,485.44 L139.75,485.38 L139.89,485.32 L140.04,485.26 L140.19,485.20 L140.33,485.14 L140.48,485.08 L140.63,485.02 L140.77,484.96 L140.92,484.91 L141.07,484.85 L141.21,484.79 L141.36,484.73 L141.51,484.68 L141.66,484.62 L141.81,484.56 L141.95,484.51 L142.10,484.45 L142.25,484.40 L142.40,484.34 L142.55,484.29 L142.69,484.23 L142.84,484.18 L142.99,484.12 L143.14,484.07 L143.29,484.02 L143.44,483.96 L143.58,483.91 L143.73,483.86 L143.88,483.81 L144.03,483.76 L144.18,483.71 L144.33,483.65 L144.48,483.60 L144.63,483.55 L144.78,483.50 L144.93,483.46 M154.31,481.10 L154.46,481.08 L154.62,481.05 L154.77,481.02 L154.92,481.00 L155.07,480.97 L155.23,480.95 L155.38,480.93 L155.53,480.90 L155.69,480.88 L155.84,480.86 L155.99,480.83 L156.15,480.81 L156.30,480.79 L156.45,480.77 L156.60,480.75 L156.76,480.73 L156.91,480.71 L157.06,480.69 L157.22,480.67 L157.37,480.65 L157.52,480.63 L157.68,480.61 L157.83,480.59 L157.98,480.58 L158.14,480.56 L158.29,480.54 L158.44,480.53 L158.60,480.51 L158.75,480.50 L158.90,480.48 L159.06,480.47 L159.21,480.45 L159.36,480.44 L159.52,480.43 L159.67,480.41 L159.82,480.40 L159.98,480.39 L160.13,480.38 L160.28,480.36 L160.44,480.35 L160.59,480.34 L160.74,480.33 L160.90,480.32 L161.05,480.31 L161.20,480.30 L161.36,480.30 L161.51,480.29 L161.66,480.28 L161.82,480.27 L161.97,480.27 L162.12,480.26 L162.28,480.25 L162.43,480.25 L162.58,480.24 L162.74,480.24 L162.89,480.23 L163.04,480.23 L163.20,480.22 L163.35,480.22 L163.50,480.22 M172.95,480.85 L173.10,480.88 L173.25,480.90 L173.40,480.93 L173.55,480.95 L173.70,480.98 L173.85,481.00 L174.00,481.03 L174.15,481.05 L174.30,481.08 L174.45,481.11 L174.60,481.14 L174.75,481.16 L174.90,481.19 L175.05,481.22 L175.20,481.25 L175.35,481.28 L175.50,481.31 L175.65,481.34 L175.80,481.37 L175.95,481.41 L176.10,481.44 L176.25,481.47 L176.40,481.50 L176.55,481.54 L176.70,481.57 L176.85,481.60 L176.99,481.64 L177.14,481.67 L177.29,481.71 L177.44,481.75 L177.59,481.78 L177.74,481.82 L177.89,481.86 L178.03,481.89 L178.18,481.93 L178.33,481.97 L178.48,482.01 L178.63,482.05 L178.77,482.09 L178.92,482.13 L179.07,482.17 L179.22,482.21 L179.36,482.25 L179.51,482.29 L179.66,482.34 L179.80,482.38 L179.95,482.42 L180.10,482.46 L180.24,482.51 L180.39,482.55 L180.54,482.60 L180.68,482.64 L180.83,482.69 L180.98,482.74 L181.12,482.78 L181.27,482.83 M190.05,486.60 L190.19,486.68 L190.32,486.75 L190.46,486.83 L190.60,486.91 L190.73,486.98 L190.87,487.06 L191.00,487.14 L191.14,487.22 L191.27,487.29 L191.41,487.37 L191.54,487.45 L191.68,487.53 L191.81,487.61 L191.95,487.69 L192.08,487.77 L192.22,487.85 L192.35,487.94 L192.49,488.02 L192.62,488.10 L192.75,488.18 L192.89,488.27 L193.02,488.35 L193.15,488.44 L193.29,488.52 L193.42,488.61 L193.55,488.69 L193.68,488.78 L193.81,488.87 L193.95,488.95 L194.08,489.04 L194.21,489.13 L194.34,489.22 L194.47,489.31 L194.60,489.40 L194.73,489.49 L194.86,489.58 L194.99,489.67 L195.12,489.76 L195.25,489.85 L195.38,489.94 L195.51,490.04 L195.64,490.13 L195.77,490.22 L195.90,490.32 L196.03,490.41 L196.16,490.51 L196.28,490.60 M202.99,496.55 L203.10,496.67 L203.22,496.79 L203.33,496.92 L203.44,497.04 L203.56,497.16 L203.67,497.28 L203.79,497.41 L203.90,497.53 L204.01,497.66 L204.13,497.78 L204.24,497.91 L204.35,498.03 L204.46,498.16 L204.57,498.29 L204.68,498.41 L204.80,498.54 L204.91,498.67 L205.02,498.80 L205.13,498.93 L205.24,499.06 L205.35,499.19 L205.46,499.32 L205.57,499.45 L205.67,499.58 L205.78,499.71 L205.89,499.85 L206.00,499.98 L206.11,500.11 L206.22,500.25 L206.32,500.38 L206.43,500.52 L206.54,500.65 L206.64,500.79 L206.75,500.93 L206.85,501.06 L206.96,501.20 L207.06,501.34 L207.17,501.48 L207.27,501.61 L207.38,501.75 L207.48,501.89 L207.59,502.03 L207.69,502.17 L207.79,502.31 L207.90,502.46 L208.00,502.60 L208.10,502.74 L208.20,502.88 L208.30,503.03 L208.41,503.17 L208.51,503.31 L208.61,503.46 L208.71,503.60 L208.81,503.75 L208.91,503.90 L209.01,504.04 L209.11,504.19 L209.21,504.34 L209.31,504.49 L209.40,504.63 L209.50,504.78 L209.60,504.93 L209.70,505.08 L209.79,505.23" fill="none" stroke="#1a1ad8" stroke-width="1.8" stroke-linecap="butt"/><path d="M78.73,507.83 L78.91,507.68 L79.10,507.53 L79.28,507.38 L79.47,507.23 L79.66,507.08 L79.84,506.93 L80.03,506.78 L80.21,506.62 L80.40,506.47 L80.59,506.32 L80.77,506.16 L80.96,506.01 L81.15,505.85 L81.33,505.70 L81.52,505.54 L81.71,505.38 L81.90,505.22 M89.47,498.57 L89.66,498.40 L89.86,498.23 L90.05,498.05 L90.24,497.88 L90.43,497.70 L90.62,497.53 L90.82,497.35 L91.01,497.18 L91.20,497.00 L91.40,496.83 L91.59,496.65 L91.78,496.47 L91.97,496.30 L92.17,496.12 L92.36,495.94 L92.56,495.77 L92.75,495.59 L92.94,495.41 L93.14,495.23 L93.33,495.06 L93.53,494.88 L93.72,494.70 L93.92,494.52 L94.11,494.34 L94.31,494.16 L94.50,493.99 L94.70,493.81 L94.89,493.63 L95.09,493.45 L95.28,493.27 L95.48,493.09 L95.68,492.91 L95.87,492.73 L96.07,492.55 L96.27,492.37 L96.46,492.19 L96.66,492.01 L96.86,491.83 M103.46,485.87 L103.66,485.69 L103.86,485.51 L104.07,485.33 L104.27,485.15 L104.47,484.97 L104.68,484.79 L104.88,484.61 L105.09,484.43 L105.29,484.25 L105.50,484.07 L105.70,483.90 L105.91,483.72 L106.11,483.54 L106.32,483.36 L106.52,483.18 L106.73,483.00 L106.93,482.83 L107.14,482.65 L107.35,482.47 L107.55,482.29 L107.76,482.12 L107.97,481.94 L108.18,481.76 L108.38,481.59 L108.59,481.41 L108.80,481.24 L109.01,481.06 L109.22,480.88 L109.42,480.71 L109.63,480.53 L109.84,480.36 L110.05,480.19 L110.26,480.01 M117.08,474.61 L117.30,474.45 L117.52,474.29 L117.73,474.12 L117.95,473.96 L118.17,473.80 L118.39,473.64 L118.61,473.48 L118.83,473.32 L119.04,473.16 L119.26,473.01 L119.48,472.85 L119.70,472.69 L119.92,472.53 L120.14,472.38 L120.36,472.22 L120.58,472.07 L120.81,471.91 L121.03,471.76 L121.25,471.60 L121.47,471.45 L121.69,471.30 L121.91,471.15 L122.14,471.00 L122.36,470.84 L122.58,470.69 L122.81,470.54 L123.03,470.40 L123.25,470.25 L123.48,470.10 L123.70,469.95 L123.93,469.81 L124.15,469.66 L124.38,469.51 L124.60,469.37 M131.25,465.44 L131.49,465.32 L131.72,465.19 L131.95,465.07 L132.19,464.95 L132.42,464.82 L132.66,464.70 L132.89,464.58 L133.12,464.46 L133.36,464.34 L133.59,464.22 L133.83,464.10 L134.06,463.99 L134.30,463.87 L134.54,463.75 L134.77,463.64 L135.01,463.52 L135.24,463.41 L135.48,463.29 L135.72,463.18 L135.95,463.07 L136.19,462.96 L136.43,462.85 L136.67,462.74 L136.90,462.63 L137.14,462.52 L137.38,462.41 L137.62,462.31 L137.85,462.20 L138.09,462.10 L138.33,461.99 L138.57,461.89 L138.81,461.78 L139.05,461.68 L139.29,461.58 L139.53,461.48 L139.77,461.38 L140.01,461.28 L140.25,461.18 M150.21,457.83 L150.46,457.77 L150.70,457.71 L150.95,457.64 L151.20,457.58 L151.44,457.52 L151.69,457.46 L151.93,457.40 L152.18,457.34 L152.43,457.29 L152.67,457.23 L152.92,457.18 L153.17,457.12 L153.41,457.07 L153.66,457.01 L153.91,456.96 L154.15,456.91 L154.40,456.86 L154.65,456.81 L154.89,456.76 L155.14,456.72 L155.39,456.67 L155.63,456.62 L155.88,456.58 L156.13,456.54 L156.38,456.49 L156.62,456.45 L156.87,456.41 L157.12,456.37 L157.37,456.33 L157.61,456.29 L157.86,456.26 L158.11,456.22 L158.36,456.18 M167.30,455.55 L167.55,455.55 L167.79,455.55 L168.04,455.56 L168.29,455.56 L168.54,455.56 L168.79,455.57 L169.04,455.58 L169.28,455.58 L169.53,455.59 L169.78,455.60 L170.03,455.61 L170.28,455.63 L170.53,455.64 L170.77,455.65 L171.02,455.67 L171.27,455.68 L171.52,455.70 L171.77,455.72 L172.01,455.74 L172.26,455.76 L172.51,455.78 L172.76,455.80 L173.01,455.83 L173.25,455.85 L173.50,455.88 L173.75,455.91 L174.00,455.93 L174.24,455.96 L174.49,455.99 L174.74,456.02 L174.99,456.06 L175.23,456.09 L175.48,456.12 L175.73,456.16 L175.97,456.20 L176.22,456.23 L176.47,456.27 L176.72,456.31 L176.96,456.35 M184.57,458.14 L184.82,458.21 L185.06,458.29 L185.31,458.36 L185.55,458.44 L185.79,458.51 L186.04,458.59 L186.28,458.67 L186.52,458.75 L186.77,458.83 L187.01,458.91 L187.25,459.00 L187.50,459.08 L187.74,459.16 L187.98,459.25 L188.23,459.34 L188.47,459.42 L188.71,459.51 L188.95,459.60 L189.19,459.69 L189.44,459.78 L189.68,459.87 L189.92,459.96 L190.16,460.06 L190.40,460.15 L190.65,460.24 L190.89,460.34 L191.13,460.44 L191.37,460.53 L191.61,460.63 L191.85,460.73 L192.09,460.83 L192.33,460.93 L192.57,461.03 L192.81,461.13 M200.91,465.05 L201.15,465.18 L201.38,465.31 L201.62,465.44 L201.85,465.57 L202.09,465.70 L202.32,465.83 L202.56,465.96 L202.79,466.09 L203.03,466.22 L203.26,466.36 L203.49,466.49 L203.73,466.63 L203.96,466.76 L204.19,466.90 L204.43,467.03 L204.66,467.17 L204.89,467.31 L205.13,467.44 L205.36,467.58 L205.59,467.72 L205.82,467.86 L206.06,468.00 L206.29,468.14 L206.52,468.28 L206.75,468.43 L206.98,468.57 L207.22,468.71 L207.45,468.86 L207.68,469.00 L207.91,469.14 L208.14,469.29 L208.37,469.43 L208.60,469.58 L208.83,469.73 L209.06,469.87 L209.29,470.02 L209.52,470.17 L209.75,470.32 L209.98,470.47 M213.62,472.92 L213.84,473.08 L214.07,473.23 L214.30,473.39 L214.52,473.55 L214.75,473.71 L214.97,473.87 L215.20,474.02 L215.42,474.18 L215.64,474.34 L215.87,474.50 L216.09,474.67 L216.32,474.83 L216.54,474.99 L216.76,475.15 L216.99,475.31 L217.21,475.47 L217.43,475.64 L217.65,475.80 L217.88,475.96 L218.10,476.13 L218.32,476.29 L218.54,476.46 L218.76,476.62 L218.98,476.79 L219.20,476.95 L219.43,477.12 L219.65,477.28 L219.87,477.45 L220.09,477.62 L220.31,477.79 L220.53,477.95 L220.74,478.12 L220.96,478.29 L221.18,478.46 L221.40,478.62 L221.62,478.79 L221.84,478.96 M229.95,485.54 L230.16,485.71 L230.37,485.89 L230.58,486.06 L230.79,486.24 L230.99,486.42 L231.20,486.59 L231.41,486.77 L231.61,486.95 L231.82,487.12 L232.03,487.30 L232.23,487.47 L232.44,487.65 L232.64,487.83 L232.85,488.00 L233.05,488.18 L233.26,488.36 L233.46,488.54 L233.67,488.71 L233.87,488.89 L234.08,489.07 L234.28,489.24 L234.48,489.42 L234.68,489.60 L234.89,489.77 L235.09,489.95 L235.29,490.13 L235.49,490.30 L235.69,490.48 L235.89,490.66 L236.10,490.83 L236.30,491.01 L236.50,491.19 L236.70,491.36 L236.90,491.54 L237.09,491.72 L237.29,491.89 M241.40,495.58 L241.60,495.75 L241.79,495.93 L241.98,496.10 L242.17,496.28 L242.36,496.45 L242.55,496.62 L242.75,496.80 L242.94,496.97 L243.13,497.14 L243.32,497.31 L243.50,497.49 L243.69,497.66 L243.88,497.83 L244.07,498.00 L244.26,498.17 L244.45,498.35 L244.63,498.52 L244.82,498.69 L245.01,498.86 L245.19,499.03 L245.38,499.20 L245.57,499.37 L245.75,499.54 L245.94,499.71 L246.12,499.88 L246.31,500.05 L246.49,500.22 L246.67,500.39 L246.86,500.55 L247.04,500.72 L247.22,500.89 L247.41,501.06 L247.59,501.22 L247.77,501.39 L247.95,501.56" fill="none" stroke="#3c12bc" stroke-width="1.8" stroke-linecap="butt"/><path d="M59.82,505.55 L60.14,505.46 L60.45,505.36 L60.76,505.27 L61.07,505.17 L61.38,505.07 L61.69,504.97 L62.00,504.87 L62.31,504.76 L62.61,504.66 L62.91,504.56 L63.22,504.45 L63.52,504.34 L63.82,504.23 L64.12,504.12 L64.42,504.01 L64.72,503.90 L65.02,503.78 L65.31,503.67 L65.61,503.55 L65.90,503.43 L66.19,503.31 L66.49,503.19 L66.78,503.07 L67.07,502.95 M75.64,498.62 L75.91,498.46 L76.17,498.31 L76.44,498.15 L76.70,497.99 L76.96,497.84 L77.22,497.68 L77.48,497.52 L77.74,497.35 L78.00,497.19 L78.26,497.03 L78.52,496.87 L78.78,496.70 L79.04,496.54 L79.29,496.37 L79.55,496.20 L79.81,496.04 L80.06,495.87 L80.32,495.70 L80.57,495.53 L80.83,495.36 L81.08,495.19 L81.33,495.02 L81.58,494.84 L81.84,494.67 M89.46,489.00 L89.71,488.81 L89.95,488.62 L90.19,488.43 L90.43,488.24 L90.67,488.05 L90.91,487.85 L91.15,487.66 L91.39,487.47 L91.63,487.27 L91.87,487.08 L92.11,486.89 L92.36,486.69 L92.60,486.50 L92.84,486.30 L93.08,486.11 L93.32,485.91 L93.56,485.71 L93.80,485.52 L94.04,485.32 L94.28,485.12 L94.52,484.93 L94.76,484.73 L95.00,484.53 L95.23,484.33 L95.47,484.13 L95.71,483.94 L95.95,483.74 L96.19,483.54 L96.43,483.34 L96.68,483.14 M103.46,477.54 L103.71,477.34 L103.95,477.14 L104.20,476.94 L104.45,476.74 L104.70,476.54 L104.94,476.34 L105.19,476.14 L105.44,475.94 L105.69,475.75 L105.94,475.55 L106.19,475.35 L106.44,475.15 L106.69,474.95 L106.94,474.75 L107.19,474.56 L107.44,474.36 L107.69,474.16 L107.95,473.96 L108.20,473.77 L108.45,473.57 L108.71,473.37 L108.96,473.18 L109.22,472.98 L109.47,472.79 L109.73,472.59 L109.98,472.40 L110.24,472.20 M117.09,467.27 L117.36,467.09 L117.63,466.90 L117.90,466.72 L118.17,466.54 L118.44,466.36 L118.71,466.18 L118.98,466.00 L119.26,465.81 L119.53,465.64 L119.80,465.46 L120.08,465.28 L120.35,465.10 L120.62,464.92 L120.90,464.74 L121.17,464.57 L121.45,464.39 L121.72,464.22 L122.00,464.04 L122.28,463.87 L122.55,463.69 L122.83,463.52 L123.11,463.35 L123.38,463.18 L123.66,463.01 L123.94,462.84 L124.22,462.67 L124.50,462.50 M131.29,458.65 L131.58,458.50 L131.86,458.35 L132.15,458.21 L132.44,458.06 L132.72,457.91 L133.01,457.76 L133.30,457.62 L133.59,457.47 L133.88,457.33 L134.17,457.19 L134.45,457.05 L134.74,456.90 L135.03,456.76 L135.32,456.63 L135.61,456.49 L135.90,456.35 L136.19,456.21 L136.48,456.08 L136.77,455.94 L137.07,455.81 L137.36,455.68 L137.65,455.54 L137.94,455.41 L138.23,455.28 L138.52,455.16 L138.82,455.03 L139.11,454.90 L139.40,454.77 L139.69,454.65 L139.99,454.53 L140.28,454.40 M150.03,450.96 L150.33,450.88 L150.62,450.80 L150.92,450.71 L151.22,450.63 L151.51,450.55 L151.81,450.48 L152.11,450.40 L152.41,450.32 L152.71,450.25 L153.00,450.18 L153.30,450.11 L153.60,450.04 L153.90,449.97 L154.19,449.90 L154.49,449.83 L154.79,449.77 L155.09,449.70 L155.39,449.64 L155.68,449.58 L155.98,449.52 L156.28,449.46 L156.58,449.41 L156.88,449.35 L157.17,449.30 L157.47,449.25 L157.77,449.19 L158.07,449.14 L158.37,449.10 M167.29,448.34 L167.59,448.34 L167.88,448.34 L168.18,448.34 L168.47,448.35 L168.77,448.35 L169.07,448.36 L169.36,448.37 L169.66,448.38 L169.95,448.39 L170.25,448.41 L170.54,448.42 L170.84,448.44 L171.13,448.46 L171.43,448.48 L171.72,448.50 L172.02,448.53 L172.31,448.55 L172.61,448.58 L172.90,448.61 L173.20,448.64 L173.49,448.67 L173.78,448.70 L174.08,448.74 L174.37,448.77 L174.66,448.81 L174.96,448.85 L175.25,448.89 L175.54,448.93 L175.84,448.98 L176.13,449.02 L176.42,449.07 L176.72,449.12 L177.01,449.17 M184.57,450.97 L184.86,451.05 L185.15,451.14 L185.44,451.23 L185.73,451.32 L186.02,451.41 L186.31,451.51 L186.60,451.60 L186.89,451.70 L187.17,451.79 L187.46,451.89 L187.75,451.99 L188.04,452.09 L188.33,452.19 L188.61,452.30 L188.90,452.40 L189.19,452.51 L189.48,452.61 L189.76,452.72 L190.05,452.83 L190.34,452.94 L190.63,453.05 L190.91,453.16 L191.20,453.28 L191.49,453.39 L191.77,453.51 L192.06,453.62 L192.35,453.74 L192.63,453.86 M201.17,457.87 L201.45,458.02 L201.73,458.17 L202.01,458.32 L202.30,458.47 L202.58,458.62 L202.86,458.77 L203.14,458.93 L203.42,459.08 L203.71,459.23 L203.99,459.39 L204.27,459.54 L204.55,459.70 L204.83,459.86 L205.11,460.02 L205.40,460.17 L205.68,460.33 L205.96,460.49 L206.24,460.65 L206.52,460.82 L206.80,460.98 L207.08,461.14 L207.36,461.30 L207.64,461.47 L207.92,461.63 L208.20,461.80 L208.48,461.96 L208.76,462.13 L209.04,462.30 L209.32,462.46 L209.60,462.63 L209.88,462.80 M213.78,465.23 L214.05,465.40 L214.33,465.58 L214.61,465.76 L214.89,465.94 L215.16,466.12 L215.44,466.29 L215.72,466.47 L216.00,466.65 L216.27,466.83 L216.55,467.02 L216.83,467.20 L217.10,467.38 L217.38,467.56 L217.65,467.74 L217.93,467.93 L218.21,468.11 L218.48,468.29 L218.76,468.48 L219.03,468.66 L219.31,468.85 L219.59,469.03 L219.86,469.22 L220.14,469.40 L220.41,469.59 L220.69,469.77 L220.96,469.96 L221.24,470.15 L221.51,470.33 L221.79,470.52 M229.97,476.22 L230.25,476.41 L230.52,476.60 L230.79,476.79 L231.06,476.98 L231.33,477.17 L231.60,477.37 L231.87,477.56 L232.14,477.75 L232.41,477.94 L232.68,478.13 L232.95,478.32 L233.22,478.51 L233.49,478.71 L233.76,478.90 L234.03,479.09 L234.30,479.28 L234.57,479.47 L234.84,479.66 L235.11,479.85 L235.38,480.04 L235.65,480.23 L235.92,480.42 L236.19,480.61 L236.46,480.80 L236.73,480.99 L236.99,481.18 L237.26,481.37 M244.48,486.38 L244.74,486.56 L245.01,486.74 L245.27,486.92 L245.54,487.10 L245.80,487.28 L246.07,487.46 L246.33,487.64 L246.60,487.82 L246.86,488.00 L247.13,488.17 L247.39,488.35 L247.66,488.53 L247.92,488.70 L248.19,488.88 L248.45,489.05 L248.72,489.23 L248.98,489.40 L249.24,489.57 L249.51,489.74 L249.77,489.92 L250.03,490.09 L250.30,490.26 L250.56,490.43 L250.83,490.60 L251.09,490.77 L251.35,490.94 M260.24,496.26 L260.50,496.41 L260.76,496.55 L261.02,496.69 L261.28,496.83 L261.54,496.97 L261.80,497.11 L262.06,497.25 L262.31,497.38 L262.57,497.52 L262.83,497.66 L263.09,497.79 L263.35,497.92 L263.61,498.05 L263.87,498.19 L264.13,498.32 L264.38,498.45 L264.64,498.57 L264.90,498.70 L265.16,498.83 L265.42,498.95 L265.67,499.08 L265.93,499.20 L266.19,499.32 L266.45,499.44 L266.70,499.56 L266.96,499.68" fill="none" stroke="#72128c" stroke-width="1.8" stroke-linecap="butt"/><path d="M47.83,506.18 L48.12,506.14 L48.41,506.10 L48.70,506.06 L48.99,506.01 L49.28,505.97 L49.57,505.92 L49.85,505.87 L50.14,505.82 L50.43,505.77 L50.72,505.71 L51.00,505.66 L51.29,505.60 M59.77,503.19 L60.05,503.09 L60.32,502.98 L60.60,502.88 L60.88,502.77 L61.16,502.67 L61.44,502.56 L61.71,502.45 L61.99,502.34 L62.27,502.22 L62.54,502.11 L62.82,502.00 L63.10,501.88 L63.37,501.76 L63.65,501.64 L63.92,501.52 L64.20,501.40 L64.47,501.28 L64.75,501.16 L65.02,501.03 L65.30,500.91 L65.57,500.78 L65.85,500.65 L66.12,500.53 L66.39,500.40 L66.67,500.26 L66.94,500.13 M75.59,495.36 L75.86,495.20 L76.12,495.03 L76.39,494.87 L76.66,494.70 L76.92,494.53 L77.19,494.36 L77.46,494.19 L77.72,494.02 L77.99,493.85 L78.26,493.68 L78.52,493.51 L78.79,493.34 L79.06,493.16 L79.32,492.99 L79.59,492.81 L79.85,492.64 L80.12,492.46 L80.38,492.28 L80.65,492.10 L80.91,491.92 L81.18,491.75 L81.44,491.56 L81.71,491.38 L81.97,491.20 M89.61,485.69 L89.87,485.50 L90.13,485.30 L90.39,485.10 L90.65,484.90 L90.91,484.70 L91.18,484.51 L91.44,484.31 L91.70,484.11 L91.96,483.91 L92.22,483.71 L92.48,483.51 L92.75,483.30 L93.01,483.10 L93.27,482.90 L93.53,482.70 L93.79,482.50 L94.05,482.29 L94.31,482.09 L94.57,481.89 L94.83,481.69 L95.10,481.48 L95.36,481.28 L95.62,481.07 L95.88,480.87 L96.14,480.67 L96.40,480.46 L96.66,480.26 M103.44,474.89 L103.70,474.68 L103.96,474.48 L104.22,474.27 L104.48,474.06 L104.74,473.86 L105.00,473.65 L105.26,473.44 L105.52,473.24 L105.79,473.03 L106.05,472.83 L106.31,472.62 L106.57,472.41 L106.83,472.21 L107.09,472.00 L107.35,471.80 L107.61,471.59 L107.87,471.39 L108.13,471.18 L108.40,470.98 L108.66,470.77 L108.92,470.57 L109.18,470.36 L109.44,470.16 L109.70,469.95 L109.96,469.75 L110.23,469.55 M117.05,464.37 L117.32,464.17 L117.58,463.98 L117.84,463.79 L118.11,463.60 L118.37,463.40 L118.64,463.21 L118.90,463.02 L119.16,462.83 L119.43,462.64 L119.69,462.45 L119.96,462.26 L120.22,462.07 L120.49,461.89 L120.75,461.70 L121.02,461.51 L121.28,461.33 L121.55,461.14 L121.81,460.96 L122.08,460.77 L122.35,460.59 L122.61,460.40 L122.88,460.22 L123.14,460.04 L123.41,459.86 L123.68,459.68 L123.94,459.50 L124.21,459.32 L124.48,459.14 M131.20,454.92 L131.47,454.77 L131.74,454.61 L132.01,454.45 L132.28,454.30 L132.55,454.14 L132.82,453.99 L133.10,453.84 L133.37,453.69 L133.64,453.54 L133.91,453.39 L134.19,453.24 L134.46,453.09 L134.73,452.94 L135.01,452.80 L135.28,452.65 L135.55,452.51 L135.83,452.37 L136.10,452.23 L136.38,452.09 L136.65,451.95 L136.93,451.81 L137.20,451.67 L137.48,451.54 L137.75,451.40 L138.03,451.27 L138.30,451.13 L138.58,451.00 L138.86,450.87 L139.13,450.74 L139.41,450.61 L139.69,450.49 L139.96,450.36 L140.24,450.24 M150.11,446.65 L150.39,446.58 L150.68,446.50 L150.97,446.43 L151.25,446.35 L151.54,446.28 L151.83,446.21 L152.12,446.14 L152.41,446.07 L152.70,446.01 L152.99,445.94 L153.27,445.88 L153.56,445.82 L153.85,445.76 L154.15,445.70 L154.44,445.64 L154.73,445.59 L155.02,445.54 L155.31,445.48 L155.60,445.43 L155.89,445.38 L156.19,445.34 L156.48,445.29 L156.77,445.25 L157.07,445.21 L157.36,445.17 L157.65,445.13 L157.95,445.09 L158.24,445.05 L158.54,445.02 M167.21,444.70 L167.51,444.71 L167.81,444.73 L168.11,444.74 L168.41,444.76 L168.72,444.77 L169.02,444.79 L169.32,444.81 L169.63,444.83 L169.93,444.86 L170.23,444.88 L170.54,444.91 L170.84,444.93 L171.14,444.96 L171.45,444.99 L171.75,445.02 L172.06,445.05 L172.36,445.09 L172.67,445.12 L172.97,445.16 L173.27,445.20 L173.58,445.23 L173.88,445.27 L174.19,445.32 L174.49,445.36 L174.80,445.40 L175.10,445.45 L175.41,445.50 L175.71,445.54 L176.02,445.59 L176.33,445.64 L176.63,445.70 L176.94,445.75 M184.58,447.47 L184.89,447.56 L185.19,447.64 L185.50,447.73 L185.80,447.82 L186.11,447.91 L186.41,448.00 L186.72,448.09 L187.03,448.18 L187.33,448.27 L187.64,448.37 L187.94,448.46 L188.25,448.56 L188.55,448.65 L188.85,448.75 L189.16,448.85 L189.46,448.95 L189.77,449.05 L190.07,449.16 L190.38,449.26 L190.68,449.36 L190.98,449.47 L191.29,449.58 L191.59,449.68 L191.90,449.79 L192.20,449.90 L192.50,450.01 L192.81,450.12 M200.92,453.49 L201.22,453.62 L201.51,453.76 L201.81,453.90 L202.11,454.04 L202.40,454.18 L202.70,454.32 L202.99,454.46 L203.29,454.60 L203.58,454.75 L203.88,454.89 L204.17,455.04 L204.47,455.18 L204.76,455.33 L205.06,455.48 L205.35,455.62 L205.64,455.77 L205.94,455.92 L206.23,456.07 L206.52,456.22 L206.81,456.37 L207.10,456.53 L207.39,456.68 L207.68,456.83 L207.98,456.99 L208.27,457.14 L208.55,457.30 L208.84,457.45 L209.13,457.61 L209.42,457.77 L209.71,457.93 L210.00,458.09 M213.70,460.21 L213.99,460.38 L214.27,460.55 L214.55,460.72 L214.83,460.89 L215.11,461.06 L215.39,461.23 L215.67,461.40 L215.95,461.57 L216.23,461.74 L216.51,461.92 L216.78,462.09 L217.06,462.26 L217.34,462.44 L217.62,462.61 L217.89,462.79 L218.17,462.96 L218.44,463.14 L218.72,463.32 L218.99,463.49 L219.27,463.67 L219.54,463.85 L219.81,464.03 L220.09,464.21 L220.36,464.39 L220.63,464.57 L220.90,464.74 L221.18,464.93 L221.45,465.11 L221.72,465.29 L221.99,465.47 M229.99,471.00 L230.26,471.18 L230.52,471.37 L230.79,471.56 L231.05,471.74 L231.31,471.93 L231.58,472.11 L231.84,472.30 L232.10,472.48 L232.36,472.67 L232.63,472.85 L232.89,473.04 L233.15,473.22 L233.42,473.41 L233.68,473.59 L233.94,473.78 L234.20,473.96 L234.47,474.15 L234.73,474.33 L234.99,474.51 L235.25,474.70 L235.52,474.88 L235.78,475.07 L236.04,475.25 L236.30,475.43 L236.56,475.61 L236.83,475.80 L237.09,475.98 M245.79,481.76 L246.06,481.92 L246.32,482.09 L246.59,482.26 L246.86,482.42 L247.12,482.58 L247.39,482.75 L247.66,482.91 L247.93,483.07 L248.19,483.23 L248.46,483.39 L248.73,483.55 L249.00,483.71 L249.27,483.87 L249.54,484.02 L249.81,484.18 L250.08,484.34 L250.35,484.49 L250.62,484.65 L250.89,484.80 L251.16,484.95 L251.43,485.10 L251.71,485.25 L251.98,485.40 L252.25,485.55 L252.53,485.70 L252.80,485.85 M262.93,490.46 L263.22,490.57 L263.51,490.67 L263.80,490.78 L264.10,490.88 L264.39,490.98 L264.68,491.08 L264.98,491.18 L265.27,491.28 L265.57,491.38 L265.86,491.47 L266.16,491.56 L266.46,491.66 L266.76,491.75 L267.06,491.84 L267.36,491.92 L267.66,492.01 L267.96,492.10 L268.26,492.18 L268.56,492.26 L268.86,492.34 L269.17,492.42 L269.47,492.50 L269.78,492.57 L270.08,492.65 L270.39,492.72" fill="none" stroke="#a40c4c" stroke-width="1.8" stroke-linecap="butt"/><path d="M45.97,505.34 L46.31,505.25 L46.65,505.16 L46.99,505.07 L47.33,504.98 L47.66,504.88 L48.00,504.79 L48.33,504.69 L48.66,504.60 L49.00,504.50 L49.33,504.40 L49.66,504.31 L49.98,504.21 L50.31,504.11 L50.64,504.01 L50.96,503.90 L51.29,503.80 M59.96,500.61 L60.26,500.49 L60.55,500.36 L60.85,500.24 L61.14,500.11 L61.43,499.98 L61.72,499.85 L62.02,499.72 L62.31,499.59 L62.60,499.46 L62.89,499.33 L63.17,499.20 L63.46,499.07 L63.75,498.94 L64.03,498.80 L64.32,498.67 L64.60,498.53 L64.89,498.40 L65.17,498.26 L65.45,498.12 L65.73,497.98 L66.02,497.84 L66.30,497.71 L66.58,497.57 L66.85,497.42 M75.46,492.60 L75.72,492.44 L75.98,492.28 L76.24,492.11 L76.50,491.95 L76.76,491.79 L77.02,491.63 L77.28,491.46 L77.53,491.30 L77.79,491.13 L78.05,490.97 L78.30,490.80 L78.56,490.64 L78.82,490.47 L79.07,490.30 L79.33,490.13 L79.58,489.97 L79.84,489.80 L80.09,489.63 L80.34,489.46 L80.60,489.29 L80.85,489.12 L81.10,488.95 L81.36,488.77 L81.61,488.60 L81.86,488.43 M89.59,482.86 L89.84,482.67 L90.09,482.48 L90.34,482.30 L90.58,482.11 L90.83,481.92 L91.08,481.73 L91.33,481.55 L91.58,481.36 L91.82,481.17 L92.07,480.98 L92.32,480.79 L92.57,480.60 L92.82,480.41 L93.06,480.22 L93.31,480.03 L93.56,479.84 L93.81,479.64 L94.06,479.45 L94.31,479.26 L94.55,479.07 L94.80,478.87 L95.05,478.68 L95.30,478.49 L95.55,478.29 L95.80,478.10 L96.05,477.90 L96.30,477.71 L96.55,477.52 L96.80,477.32 M103.39,472.15 L103.65,471.95 L103.91,471.75 L104.17,471.55 L104.43,471.35 L104.69,471.14 L104.95,470.94 L105.21,470.74 L105.47,470.54 L105.73,470.33 L105.99,470.13 L106.25,469.93 L106.51,469.72 L106.77,469.52 L107.04,469.32 L107.30,469.12 L107.56,468.91 L107.83,468.71 L108.09,468.51 L108.35,468.30 L108.62,468.10 L108.88,467.90 L109.15,467.69 L109.41,467.49 L109.68,467.29 L109.94,467.08 L110.21,466.88 M116.96,461.87 L117.24,461.67 L117.51,461.47 L117.79,461.28 L118.06,461.08 L118.34,460.89 L118.61,460.69 L118.89,460.49 L119.16,460.30 L119.44,460.11 L119.71,459.91 L119.99,459.72 L120.27,459.53 L120.54,459.33 L120.82,459.14 L121.10,458.95 L121.38,458.76 L121.65,458.57 L121.93,458.38 L122.21,458.19 L122.49,458.00 L122.77,457.81 L123.05,457.63 L123.33,457.44 L123.60,457.25 L123.88,457.07 L124.16,456.88 L124.44,456.70 M131.23,452.47 L131.52,452.31 L131.80,452.14 L132.09,451.98 L132.37,451.82 L132.66,451.65 L132.94,451.49 L133.23,451.33 L133.52,451.17 L133.80,451.01 L134.09,450.85 L134.38,450.70 L134.66,450.54 L134.95,450.39 L135.24,450.23 L135.53,450.08 L135.81,449.93 L136.10,449.78 L136.39,449.63 L136.68,449.48 L136.97,449.33 L137.25,449.18 L137.54,449.04 L137.83,448.89 L138.12,448.75 L138.41,448.61 L138.70,448.47 L138.99,448.32 L139.28,448.19 L139.57,448.05 L139.86,447.91 L140.15,447.78 M150.06,443.94 L150.35,443.85 L150.65,443.76 L150.94,443.68 L151.23,443.59 L151.53,443.51 L151.82,443.43 L152.11,443.35 L152.41,443.27 L152.70,443.20 L153.00,443.12 L153.29,443.05 L153.58,442.98 L153.88,442.91 L154.17,442.85 L154.46,442.78 L154.76,442.72 L155.05,442.65 L155.35,442.59 L155.64,442.53 L155.93,442.48 L156.23,442.42 L156.52,442.37 L156.82,442.31 L157.11,442.26 L157.41,442.22 L157.70,442.17 L157.99,442.12 L158.29,442.08 L158.58,442.04 M167.12,441.62 L167.42,441.63 L167.71,441.64 L168.01,441.65 L168.30,441.67 L168.59,441.69 L168.89,441.71 L169.18,441.73 L169.48,441.75 L169.77,441.77 L170.07,441.80 L170.36,441.83 L170.66,441.85 L170.95,441.88 L171.24,441.92 L171.54,441.95 L171.83,441.98 L172.13,442.02 L172.42,442.06 L172.72,442.10 L173.01,442.14 L173.31,442.18 L173.60,442.22 L173.89,442.27 L174.19,442.31 L174.48,442.36 L174.78,442.41 L175.07,442.46 L175.37,442.51 L175.66,442.57 L175.96,442.62 L176.25,442.68 L176.54,442.73 L176.84,442.79 M184.78,444.88 L185.07,444.97 L185.36,445.07 L185.66,445.16 L185.95,445.26 L186.24,445.36 L186.54,445.46 L186.83,445.56 L187.12,445.66 L187.42,445.77 L187.71,445.87 L188.00,445.98 L188.30,446.08 L188.59,446.19 L188.88,446.30 L189.18,446.41 L189.47,446.52 L189.76,446.63 L190.06,446.74 L190.35,446.86 L190.64,446.97 L190.93,447.09 L191.23,447.20 L191.52,447.32 L191.81,447.44 L192.11,447.56 L192.40,447.68 L192.69,447.80 M201.16,451.70 L201.45,451.84 L201.74,451.99 L202.03,452.13 L202.32,452.28 L202.61,452.43 L202.91,452.58 L203.20,452.73 L203.49,452.88 L203.78,453.03 L204.07,453.18 L204.36,453.34 L204.65,453.49 L204.94,453.64 L205.23,453.80 L205.52,453.95 L205.81,454.11 L206.10,454.26 L206.39,454.42 L206.68,454.58 L206.97,454.74 L207.26,454.89 L207.55,455.05 L207.84,455.21 L208.13,455.37 L208.42,455.53 L208.71,455.69 L209.00,455.86 L209.29,456.02 L209.58,456.18 L209.87,456.34 M213.62,458.50 L213.91,458.67 L214.20,458.83 L214.49,459.00 L214.78,459.17 L215.06,459.34 L215.35,459.51 L215.64,459.68 L215.93,459.85 L216.21,460.03 L216.50,460.20 L216.79,460.37 L217.08,460.54 L217.36,460.71 L217.65,460.89 L217.94,461.06 L218.23,461.23 L218.51,461.40 L218.80,461.58 L219.09,461.75 L219.37,461.92 L219.66,462.10 L219.95,462.27 L220.23,462.45 L220.52,462.62 L220.81,462.80 L221.09,462.97 L221.38,463.15 L221.66,463.32 L221.95,463.50 M229.92,468.43 L230.20,468.60 L230.48,468.78 L230.77,468.95 L231.05,469.13 L231.33,469.30 L231.61,469.48 L231.90,469.65 L232.18,469.83 L232.46,470.00 L232.74,470.18 L233.03,470.35 L233.31,470.52 L233.59,470.70 L233.87,470.87 L234.15,471.04 L234.43,471.22 L234.72,471.39 L235.00,471.56 L235.28,471.74 L235.56,471.91 L235.84,472.08 L236.12,472.25 L236.40,472.42 L236.68,472.59 L236.96,472.76 L237.24,472.94 M245.87,478.03 L246.15,478.18 L246.42,478.34 L246.70,478.50 L246.97,478.65 L247.25,478.81 L247.53,478.96 L247.80,479.11 L248.08,479.26 L248.35,479.42 L248.63,479.57 L248.90,479.72 L249.18,479.87 L249.45,480.02 L249.73,480.17 L250.00,480.31 L250.27,480.46 L250.55,480.61 L250.82,480.75 L251.10,480.90 L251.37,481.04 L251.64,481.19 L251.92,481.33 L252.19,481.47 L252.46,481.61 L252.74,481.76 M263.00,486.47 L263.26,486.58 L263.53,486.68 L263.80,486.79 L264.06,486.89 L264.33,486.99 L264.60,487.09 L264.86,487.19 L265.13,487.29 L265.39,487.38 L265.66,487.48 L265.92,487.57 L266.19,487.67 L266.45,487.76 L266.72,487.85 L266.98,487.94 L267.25,488.03 L267.51,488.11 L267.78,488.20 L268.04,488.28 L268.30,488.37 L268.57,488.45 L268.83,488.53 L269.09,488.61 L269.36,488.69 L269.62,488.77" fill="none" stroke="#e60018" stroke-width="1.8" stroke-linecap="butt"/><path d="M99.69,506.99 L99.65,505.47 L99.63,503.95 L99.61,502.43 L99.60,500.92 L99.60,499.41 L99.61,497.89 L99.63,496.38 L99.66,494.88 L99.71,493.37 L99.76,491.87 L99.83,490.36 L99.91,488.87 L100.01,487.37 L100.11,485.88 L100.23,484.38 L100.37,482.90 L100.52,481.41 L100.68,479.93 L100.86,478.45 L101.05,476.98 L101.26,475.50 L101.49,474.04 L101.73,472.57 L101.99,471.11 L102.27,469.65 L102.56,468.20 L102.87,466.75 L103.20,465.31 L103.55,463.87 L103.92,462.43 L104.31,461.00 L104.72,459.58 L105.14,458.16 L105.59,456.74 L106.06,455.33 L106.55,453.92 L107.07,452.52 L107.60,451.13 L108.16,449.74 L108.74,448.36 L109.34,446.98 L109.97,445.61 L110.62,444.24 L111.29,442.88 L111.99,441.53 L112.71,440.19 L113.46,438.85 L114.23,437.53 L115.03,436.22 L115.84,434.93 L116.68,433.64 L117.55,432.38 L118.44,431.13 L119.35,429.90 L120.28,428.68 L121.24,427.49 L122.22,426.32 L123.22,425.18 L124.25,424.05 L125.30,422.96 L126.37,421.89 L127.46,420.84 L128.58,419.83 L129.72,418.85 L130.88,417.90 L132.06,416.98 L133.27,416.09 L134.49,415.24 L135.74,414.42 L137.01,413.65 L138.30,412.91 L139.61,412.21 L140.95,411.55 L142.30,410.93 L143.68,410.36 L145.08,409.83 L146.50,409.35 L147.93,408.92 L149.39,408.53 L150.87,408.19 L152.36,407.90 L153.85,407.66 L155.36,407.47 L156.87,407.33 L158.39,407.25 L159.90,407.22 L161.41,407.24 L162.92,407.31 L164.42,407.44 L165.90,407.63 L167.38,407.87 L168.83,408.17 L170.27,408.53 L171.68,408.95 L173.07,409.43 L174.44,409.96 L175.77,410.56 L177.08,411.21 L178.35,411.91 L179.59,412.67 L180.80,413.48 L181.98,414.33 L183.12,415.24 L184.22,416.19 L185.29,417.18 L186.31,418.21 L187.30,419.29 L188.24,420.40 L189.15,421.55 L190.00,422.73 L190.82,423.95 L191.58,425.19 L192.30,426.47 L192.98,427.77 L193.60,429.10 L194.18,430.46 L194.71,431.83 L195.20,433.23 L195.66,434.65 L196.07,436.09 L196.44,437.55 L196.78,439.02 L197.09,440.51 L197.37,442.01 L197.61,443.52 L197.83,445.05 L198.02,446.58 L198.19,448.12 L198.33,449.67 L198.46,451.23 L198.56,452.79 L198.65,454.35 L198.72,455.91 L198.77,457.47 L198.82,459.03 L198.85,460.59 L198.88,462.14 L198.90,463.69 L198.91,465.23 L198.92,466.77 L198.92,468.30 L198.92,469.82 L198.92,471.33 L198.92,472.84 L198.91,474.35 L198.90,475.85 L198.89,477.35 L198.89,478.84 L198.88,480.33 L198.87,481.82 L198.86,483.30 L198.86,484.78 L198.86,486.26 L198.86,487.73 L198.87,489.21 L198.88,490.68 L198.89,492.15 L198.91,493.62 L198.93,495.09 L198.97,496.56 L199.00,498.04 L199.05,499.51 L199.10,500.98 L199.17,502.45 L199.24,503.93 L199.32,505.41 L199.41,506.89" fill="none" stroke="#1a1ad8" stroke-width="1.8" stroke-linejoin="round" stroke-linecap="round"/><path d="M80.87,507.01 L81.04,505.55 L81.20,504.08 L81.34,502.61 L81.48,501.12 L81.61,499.63 L81.73,498.14 L81.85,496.64 L81.96,495.13 L82.08,493.62 L82.19,492.11 L82.30,490.60 L82.42,489.08 L82.54,487.57 L82.67,486.05 L82.80,484.54 L82.95,483.03 L83.10,481.51 L83.27,480.01 L83.45,478.50 L83.64,477.00 L83.85,475.51 L84.08,474.02 L84.33,472.54 L84.60,471.06 L84.89,469.60 L85.21,468.14 L85.55,466.69 L85.92,465.25 L86.32,463.83 L86.75,462.41 L87.21,461.01 L87.69,459.62 L88.21,458.24 L88.75,456.87 L89.31,455.51 L89.91,454.17 L90.53,452.84 L91.18,451.51 L91.85,450.21 L92.55,448.91 L93.28,447.63 L94.03,446.35 L94.80,445.09 L95.60,443.85 L96.43,442.61 L97.27,441.39 L98.14,440.18 L99.03,438.98 L99.94,437.80 L100.87,436.62 L101.81,435.45 L102.78,434.30 L103.76,433.15 L104.75,432.02 L105.77,430.89 L106.79,429.78 L107.83,428.67 L108.88,427.57 L109.94,426.48 L111.01,425.40 L112.09,424.32 L113.18,423.26 L114.28,422.20 L115.38,421.14 L116.49,420.10 L117.60,419.06 L118.71,418.02 L119.83,417.00 L120.95,415.97 L122.08,414.96 L123.20,413.95 L124.33,412.94 L125.46,411.95 L126.60,410.97 L127.75,410.00 L128.90,409.04 L130.06,408.10 L131.23,407.18 L132.41,406.27 L133.61,405.38 L134.82,404.52 L136.04,403.67 L137.27,402.85 L138.53,402.05 L139.79,401.27 L141.07,400.52 L142.36,399.80 L143.66,399.10 L144.98,398.43 L146.31,397.78 L147.66,397.17 L149.02,396.58 L150.39,396.03 L151.78,395.50 L153.17,395.01 L154.59,394.54 L156.01,394.11 L157.45,393.72 L158.90,393.36 L160.36,393.03 L161.83,392.74 L163.32,392.49 L164.81,392.26 L166.31,392.08 L167.82,391.93 L169.34,391.82 L170.86,391.74 L172.38,391.69 L173.91,391.68 L175.44,391.71 L176.97,391.77 L178.49,391.86 L180.02,391.99 L181.54,392.15 L183.06,392.35 L184.57,392.59 L186.07,392.85 L187.56,393.16 L189.05,393.49 L190.53,393.86 L191.99,394.27 L193.44,394.70 L194.88,395.18 L196.30,395.68 L197.70,396.22 L199.09,396.80 L200.46,397.41 L201.80,398.05 L203.13,398.72 L204.43,399.43 L205.71,400.17 L206.97,400.95 L208.20,401.76 L209.40,402.60 L210.58,403.48 L211.72,404.39 L212.83,405.33 L213.92,406.31 L214.96,407.31 L215.98,408.36 L216.96,409.43 L217.90,410.54 L218.80,411.68 L219.67,412.85 L220.50,414.06 L221.28,415.29 L222.03,416.56 L222.75,417.85 L223.42,419.17 L224.06,420.51 L224.67,421.88 L225.25,423.27 L225.79,424.67 L226.31,426.10 L226.79,427.55 L227.24,429.01 L227.67,430.48 L228.07,431.97 L228.44,433.47 L228.79,434.97 L229.12,436.49 L229.42,438.01 L229.70,439.54 L229.95,441.07 L230.19,442.61 L230.41,444.14 L230.61,445.68 L230.79,447.21 L230.96,448.74 L231.11,450.26 L231.25,451.78 L231.37,453.29 L231.48,454.79 L231.57,456.29 L231.66,457.78 L231.73,459.27 L231.80,460.76 L231.85,462.24 L231.90,463.72 L231.94,465.19 L231.97,466.66 L231.99,468.13 L232.01,469.60 L232.02,471.07 L232.03,472.54 L232.04,474.00 L232.04,475.47 L232.04,476.93 L232.03,478.40 L232.03,479.87 L232.03,481.34 L232.02,482.81 L232.02,484.28 L232.02,485.76 L232.02,487.24 L232.03,488.72 L232.04,490.21 L232.05,491.71 L232.07,493.20 L232.10,494.71 L232.13,496.22 L232.17,497.73 L232.22,499.25 L232.27,500.78 L232.34,502.32 L232.42,503.86 L232.51,505.41 L232.61,506.98" fill="none" stroke="#3c12bc" stroke-width="1.8" stroke-linejoin="round" stroke-linecap="round"/><path d="M64.93,507.06 L64.88,505.54 L64.86,504.02 L64.87,502.50 L64.90,500.99 L64.95,499.48 L65.03,497.98 L65.14,496.48 L65.26,494.98 L65.42,493.49 L65.59,492.00 L65.79,490.51 L66.01,489.03 L66.26,487.56 L66.53,486.09 L66.82,484.62 L67.13,483.16 L67.46,481.71 L67.82,480.26 L68.20,478.82 L68.60,477.39 L69.01,475.96 L69.45,474.53 L69.91,473.12 L70.39,471.71 L70.89,470.30 L71.41,468.91 L71.95,467.52 L72.50,466.14 L73.08,464.76 L73.67,463.40 L74.28,462.04 L74.91,460.69 L75.56,459.35 L76.22,458.01 L76.90,456.69 L77.60,455.37 L78.32,454.06 L79.05,452.76 L79.79,451.48 L80.55,450.20 L81.33,448.93 L82.12,447.67 L82.93,446.42 L83.75,445.17 L84.58,443.94 L85.43,442.72 L86.30,441.51 L87.17,440.32 L88.06,439.13 L88.97,437.95 L89.88,436.77 L90.81,435.61 L91.75,434.46 L92.70,433.32 L93.66,432.18 L94.63,431.05 L95.62,429.93 L96.61,428.82 L97.61,427.72 L98.63,426.62 L99.65,425.53 L100.69,424.45 L101.73,423.38 L102.78,422.31 L103.84,421.24 L104.90,420.19 L105.98,419.14 L107.06,418.09 L108.15,417.06 L109.25,416.02 L110.35,414.99 L111.46,413.97 L112.57,412.95 L113.69,411.94 L114.82,410.93 L115.95,409.92 L117.09,408.92 L118.23,407.92 L119.37,406.93 L120.52,405.93 L121.67,404.95 L122.83,403.96 L123.99,402.98 L125.16,402.02 L126.33,401.06 L127.51,400.12 L128.70,399.20 L129.90,398.29 L131.11,397.41 L132.32,396.55 L133.56,395.72 L134.80,394.92 L136.06,394.15 L137.33,393.42 L138.61,392.71 L139.91,392.03 L141.21,391.39 L142.53,390.77 L143.86,390.19 L145.21,389.63 L146.56,389.10 L147.92,388.60 L149.30,388.12 L150.68,387.67 L152.08,387.25 L153.48,386.86 L154.90,386.49 L156.32,386.14 L157.75,385.82 L159.19,385.53 L160.64,385.25 L162.09,385.01 L163.55,384.78 L165.02,384.57 L166.50,384.39 L167.98,384.23 L169.47,384.09 L170.97,383.97 L172.47,383.87 L173.97,383.79 L175.49,383.73 L177.00,383.69 L178.52,383.67 L180.04,383.67 L181.57,383.68 L183.09,383.72 L184.62,383.78 L186.15,383.86 L187.68,383.96 L189.21,384.09 L190.73,384.23 L192.26,384.39 L193.78,384.58 L195.30,384.78 L196.81,385.01 L198.33,385.26 L199.83,385.52 L201.34,385.82 L202.83,386.13 L204.32,386.46 L205.80,386.82 L207.28,387.20 L208.75,387.60 L210.20,388.02 L211.65,388.47 L213.09,388.93 L214.52,389.42 L215.94,389.94 L217.34,390.47 L218.74,391.03 L220.11,391.61 L221.48,392.22 L222.83,392.85 L224.17,393.50 L225.49,394.17 L226.80,394.87 L228.09,395.59 L229.36,396.34 L230.62,397.11 L231.85,397.90 L233.07,398.72 L234.27,399.56 L235.45,400.43 L236.61,401.32 L237.75,402.24 L238.86,403.18 L239.95,404.14 L241.02,405.13 L242.07,406.15 L243.09,407.19 L244.09,408.25 L245.06,409.34 L246.01,410.46 L246.93,411.60 L247.82,412.77 L248.68,413.96 L249.52,415.18 L250.33,416.42 L251.11,417.68 L251.87,418.97 L252.59,420.27 L253.30,421.60 L253.97,422.94 L254.62,424.30 L255.24,425.67 L255.83,427.06 L256.40,428.46 L256.94,429.88 L257.46,431.30 L257.95,432.73 L258.41,434.17 L258.85,435.62 L259.26,437.08 L259.65,438.53 L260.01,440.00 L260.35,441.46 L260.67,442.93 L260.96,444.40 L261.22,445.87 L261.47,447.35 L261.70,448.82 L261.90,450.30 L262.09,451.78 L262.26,453.27 L262.41,454.75 L262.55,456.24 L262.67,457.72 L262.78,459.21 L262.87,460.70 L262.95,462.19 L263.01,463.69 L263.07,465.18 L263.12,466.67 L263.15,468.17 L263.18,469.66 L263.20,471.16 L263.21,472.66 L263.22,474.15 L263.22,475.65 L263.21,477.15 L263.21,478.65 L263.20,480.15 L263.19,481.64 L263.17,483.14 L263.16,484.64 L263.15,486.14 L263.14,487.63 L263.13,489.13 L263.12,490.62 L263.12,492.12 L263.12,493.61 L263.13,495.10 L263.15,496.59 L263.17,498.08 L263.20,499.57 L263.24,501.06 L263.29,502.54 L263.36,504.03 L263.43,505.51 L263.51,506.99" fill="none" stroke="#72128c" stroke-width="1.8" stroke-linejoin="round" stroke-linecap="round"/><path d="M44.73,500.03 L44.82,498.49 L44.95,496.97 L45.13,495.47 L45.35,493.97 L45.61,492.49 L45.91,491.03 L46.24,489.58 L46.62,488.14 L47.03,486.71 L47.47,485.29 L47.95,483.89 L48.47,482.50 L49.01,481.12 L49.59,479.76 L50.19,478.41 L50.83,477.06 L51.49,475.73 L52.17,474.42 L52.89,473.11 L53.62,471.81 L54.38,470.53 L55.17,469.25 L55.97,467.99 L56.79,466.73 L57.63,465.49 L58.49,464.26 L59.37,463.03 L60.26,461.82 L61.17,460.61 L62.09,459.42 L63.02,458.23 L63.96,457.06 L64.91,455.89 L65.87,454.73 L66.84,453.58 L67.82,452.44 L68.80,451.31 L69.79,450.18 L70.78,449.07 L71.78,447.96 L72.78,446.85 L73.79,445.76 L74.80,444.67 L75.82,443.58 L76.85,442.50 L77.87,441.43 L78.91,440.37 L79.94,439.30 L80.98,438.24 L82.03,437.19 L83.08,436.14 L84.13,435.09 L85.18,434.05 L86.24,433.01 L87.30,431.97 L88.37,430.93 L89.43,429.89 L90.50,428.85 L91.57,427.81 L92.64,426.77 L93.71,425.72 L94.77,424.67 L95.84,423.62 L96.90,422.56 L97.97,421.50 L99.04,420.43 L100.10,419.36 L101.17,418.30 L102.24,417.23 L103.31,416.16 L104.38,415.10 L105.46,414.04 L106.54,412.98 L107.62,411.92 L108.70,410.87 L109.80,409.83 L110.89,408.80 L112.00,407.77 L113.10,406.75 L114.22,405.74 L115.34,404.74 L116.47,403.75 L117.61,402.78 L118.75,401.81 L119.91,400.87 L121.07,399.93 L122.24,399.02 L123.43,398.11 L124.62,397.23 L125.82,396.36 L127.04,395.52 L128.27,394.69 L129.51,393.89 L130.76,393.10 L132.03,392.34 L133.31,391.61 L134.60,390.89 L135.91,390.20 L137.24,389.54 L138.57,388.90 L139.92,388.28 L141.28,387.69 L142.65,387.12 L144.02,386.57 L145.41,386.04 L146.81,385.54 L148.21,385.05 L149.62,384.58 L151.03,384.13 L152.46,383.71 L153.88,383.30 L155.32,382.91 L156.76,382.54 L158.20,382.19 L159.65,381.86 L161.10,381.54 L162.56,381.25 L164.03,380.97 L165.50,380.72 L166.97,380.48 L168.44,380.26 L169.92,380.05 L171.40,379.87 L172.89,379.70 L174.38,379.55 L175.87,379.42 L177.36,379.31 L178.86,379.21 L180.36,379.13 L181.86,379.07 L183.36,379.02 L184.86,378.99 L186.36,378.98 L187.87,378.98 L189.37,379.00 L190.88,379.03 L192.38,379.08 L193.89,379.15 L195.39,379.23 L196.90,379.33 L198.40,379.45 L199.91,379.58 L201.41,379.72 L202.91,379.88 L204.41,380.06 L205.90,380.25 L207.40,380.45 L208.89,380.67 L210.38,380.90 L211.87,381.15 L213.35,381.41 L214.83,381.68 L216.31,381.97 L217.79,382.28 L219.26,382.59 L220.72,382.92 L222.18,383.27 L223.64,383.62 L225.09,383.99 L226.54,384.37 L227.98,384.77 L229.42,385.18 L230.85,385.60 L232.28,386.04 L233.70,386.48 L235.12,386.95 L236.53,387.42 L237.93,387.91 L239.33,388.41 L240.73,388.93 L242.11,389.46 L243.49,390.00 L244.87,390.56 L246.24,391.13 L247.60,391.72 L248.96,392.31 L250.31,392.93 L251.65,393.56 L252.99,394.20 L254.32,394.85 L255.64,395.52 L256.95,396.21 L258.26,396.90 L259.56,397.62 L260.86,398.34 L262.14,399.09 L263.42,399.84 L264.69,400.61 L265.96,401.40 L267.22,402.20 L268.46,403.02 L269.70,403.85 L270.94,404.69 L272.16,405.55 L273.38,406.43 L274.58,407.32 L275.78,408.23 L276.97,409.15 L278.16,410.08 L279.33,411.04 L280.49,412.00 L281.65,412.99 L282.80,413.98 L283.93,415.00 L285.06,416.03" fill="none" stroke="#a40c4c" stroke-width="1.8" stroke-linejoin="round" stroke-linecap="round"/><path d="M44.50,460.33 L45.77,459.57 L47.04,458.80 L48.29,458.01 L49.54,457.21 L50.77,456.39 L52.00,455.56 L53.21,454.72 L54.42,453.86 L55.62,452.99 L56.82,452.11 L58.00,451.21 L59.18,450.31 L60.35,449.39 L61.52,448.46 L62.68,447.52 L63.83,446.58 L64.98,445.62 L66.12,444.66 L67.26,443.68 L68.39,442.70 L69.52,441.72 L70.64,440.72 L71.76,439.72 L72.88,438.71 L73.99,437.70 L75.10,436.68 L76.21,435.66 L77.31,434.64 L78.41,433.61 L79.51,432.57 L80.61,431.54 L81.71,430.50 L82.80,429.46 L83.90,428.41 L84.99,427.37 L86.09,426.33 L87.18,425.28 L88.28,424.24 L89.37,423.20 L90.47,422.16 L91.56,421.12 L92.66,420.08 L93.76,419.05 L94.87,418.01 L95.97,416.99 L97.08,415.96 L98.19,414.94 L99.31,413.93 L100.42,412.92 L101.55,411.91 L102.67,410.91 L103.80,409.92 L104.94,408.94 L106.08,407.96 L107.22,406.99 L108.37,406.03 L109.53,405.08 L110.69,404.14 L111.86,403.20 L113.04,402.28 L114.22,401.37 L115.41,400.47 L116.61,399.58 L117.81,398.70 L119.03,397.84 L120.25,396.98 L121.48,396.15 L122.72,395.32 L123.97,394.51 L125.23,393.71 L126.49,392.93 L127.77,392.16 L129.05,391.41 L130.34,390.67 L131.64,389.95 L132.95,389.24 L134.26,388.55 L135.58,387.87 L136.91,387.21 L138.25,386.57 L139.60,385.94 L140.95,385.33 L142.31,384.74 L143.68,384.16 L145.06,383.61 L146.44,383.07 L147.83,382.54 L149.22,382.04 L150.62,381.55 L152.03,381.08 L153.45,380.63 L154.87,380.20 L156.30,379.79 L157.73,379.40 L159.17,379.03 L160.62,378.67 L162.07,378.34 L163.53,378.03 L164.99,377.73 L166.46,377.46 L167.93,377.20 L169.40,376.96 L170.88,376.74 L172.36,376.54 L173.85,376.35 L175.33,376.19 L176.82,376.04 L178.31,375.90 L179.80,375.78 L181.30,375.68 L182.79,375.59 L184.28,375.52 L185.78,375.47 L187.27,375.43 L188.77,375.40 L190.26,375.39 L191.75,375.39 L193.24,375.41 L194.73,375.44 L196.22,375.49 L197.71,375.55 L199.20,375.62 L200.69,375.71 L202.18,375.81 L203.67,375.92 L205.15,376.05 L206.64,376.19 L208.12,376.34 L209.61,376.50 L211.09,376.68 L212.57,376.87 L214.05,377.07 L215.53,377.28 L217.01,377.51 L218.49,377.74 L219.96,377.99 L221.44,378.25 L222.91,378.52 L224.38,378.80 L225.85,379.09 L227.32,379.39 L228.79,379.70 L230.25,380.02 L231.72,380.35 L233.18,380.69 L234.64,381.05 L236.10,381.41 L237.55,381.78 L239.01,382.16 L240.46,382.55 L241.91,382.94 L243.36,383.35 L244.81,383.76 L246.26,384.19 L247.70,384.62 L249.14,385.06 L250.58,385.51 L252.02,385.96 L253.45,386.42 L254.89,386.89 L256.32,387.37 L257.74,387.85 L259.17,388.35 L260.59,388.84 L262.01,389.35 L263.43,389.86 L264.85,390.38 L266.26,390.90 L267.67,391.43 L269.08,391.96 L270.48,392.50 L271.88,393.05 L273.28,393.60 L274.68,394.16 L276.07,394.72 L277.46,395.28 L278.85,395.86 L280.23,396.43 L281.61,397.01 L282.99,397.59 L284.37,398.18 L285.74,398.77 L287.10,399.37 L288.47,399.96 L289.83,400.57 L291.19,401.17 L292.54,401.78 L293.90,402.39 L295.24,403.00 L296.59,403.62 L297.93,404.24 L299.27,404.86 L300.60,405.48 L301.93,406.10 L303.25,406.73 L304.58,407.35 L305.89,407.98 L307.21,408.61 L308.52,409.24 L309.82,409.87" fill="none" stroke="#e60018" stroke-width="1.8" stroke-linejoin="round" stroke-linecap="round"/></g><g stroke="#2e2e2e" stroke-width="1.6" fill="none"><rect x="45.0" y="1.0" width="291.8" height="506.0"/><line x1="45.0" y1="172.1" x2="336.8" y2="172.1"/><line x1="45.0" y1="342.3" x2="336.8" y2="342.3"/></g><path d="M45.0,172.1v-5M45.0,342.3v-5M45.0,507.0v5M69.3,507.0v2.8M93.6,172.1v-5M93.6,342.3v-5M93.6,507.0v5M117.9,507.0v2.8M142.3,172.1v-5M142.3,342.3v-5M142.3,507.0v5M166.6,507.0v2.8M190.9,172.1v-5M190.9,342.3v-5M190.9,507.0v5M215.2,507.0v2.8M239.5,172.1v-5M239.5,342.3v-5M239.5,507.0v5M263.8,507.0v2.8M288.2,172.1v-5M288.2,342.3v-5M288.2,507.0v5M312.5,507.0v2.8M336.8,172.1v-5M336.8,342.3v-5M336.8,507.0v5M45.0,171.6h5M336.8,171.6h-5M45.0,152.7h2.8M336.8,152.7h-2.8M45.0,133.8h5M336.8,133.8h-5M45.0,114.9h2.8M336.8,114.9h-2.8M45.0,96.0h5M336.8,96.0h-5M45.0,77.1h2.8M336.8,77.1h-2.8M45.0,58.2h5M336.8,58.2h-5M45.0,39.3h2.8M336.8,39.3h-2.8M45.0,20.4h5M336.8,20.4h-5M45.0,342.1h5M336.8,342.1h-5M45.0,323.8h2.8M336.8,323.8h-2.8M45.0,305.6h5M336.8,305.6h-5M45.0,287.3h2.8M336.8,287.3h-2.8M45.0,269.0h5M336.8,269.0h-5M45.0,250.8h2.8M336.8,250.8h-2.8M45.0,232.5h5M336.8,232.5h-5M45.0,214.2h2.8M336.8,214.2h-2.8M45.0,195.9h5M336.8,195.9h-5M45.0,177.7h2.8M336.8,177.7h-2.8M45.0,506.6h5M336.8,506.6h-5M45.0,463.4h5M336.8,463.4h-5M45.0,420.2h5M336.8,420.2h-5M45.0,377.0h5M336.8,377.0h-5M45.0,476.4h2.8M336.8,476.4h-2.8M45.0,433.2h2.8M336.8,433.2h-2.8M45.0,390.0h2.8M336.8,390.0h-2.8M45.0,346.8h2.8M336.8,346.8h-2.8" stroke="#2e2e2e" stroke-width="1.4" fill="none"/><g fill="#1a1a1a" font-size="15"><text transform="translate(38.5,176.6) scale(1,1.12)" text-anchor="end">0</text><text transform="translate(38.5,138.8) scale(1,1.12)" text-anchor="end">1</text><text transform="translate(38.5,101.0) scale(1,1.12)" text-anchor="end">2</text><text transform="translate(38.5,63.2) scale(1,1.12)" text-anchor="end">3</text><text transform="translate(38.5,25.4) scale(1,1.12)" text-anchor="end">4</text><text transform="translate(38.5,347.1) scale(1,1.12)" text-anchor="end">0</text><text transform="translate(38.5,310.6) scale(1,1.12)" text-anchor="end">30</text><text transform="translate(38.5,274.0) scale(1,1.12)" text-anchor="end">60</text><text transform="translate(38.5,237.5) scale(1,1.12)" text-anchor="end">90</text><text transform="translate(38.5,200.9) scale(1,1.12)" text-anchor="end">120</text><text transform="translate(38.5,511.6) scale(1,1.12)" text-anchor="end">0.1</text><text transform="translate(38.5,468.4) scale(1,1.12)" text-anchor="end">1</text><text transform="translate(38.5,425.2) scale(1,1.12)" text-anchor="end">10</text><text transform="translate(38.5,382.0) scale(1,1.12)" text-anchor="end">100</text></g><g fill="#1a1a1a" font-size="13.8"><text x="45.0" y="527.5" text-anchor="middle">2.82</text><text x="93.6" y="527.5" text-anchor="middle">2.84</text><text x="142.3" y="527.5" text-anchor="middle">2.86</text><text x="190.9" y="527.5" text-anchor="middle">2.88</text><text x="239.5" y="527.5" text-anchor="middle">2.90</text><text x="288.2" y="527.5" text-anchor="middle">2.92</text><text x="336.8" y="527.5" text-anchor="middle">2.94</text></g><text x="184.4" y="541" text-anchor="middle" font-size="15.4" fill="#1a1a1a">Photon energy (eV)</text><text transform="translate(16.8,87.7) rotate(-90)" text-anchor="middle" font-size="14" fill="#1a1a1a">Modal gain (cm<tspan dy="-7" font-size="8.5">-1</tspan><tspan dy="7">)</tspan></text><text transform="translate(16.8,262.8) rotate(-90)" text-anchor="middle" font-size="14" fill="#1a1a1a">Modal gain (cm<tspan dy="-7" font-size="8.5">-1</tspan><tspan dy="7">)</tspan></text><text transform="translate(16.8,439.5) rotate(-90)" text-anchor="middle" font-size="14" fill="#1a1a1a">Modal gain (cm<tspan dy="-7" font-size="8.5">-1</tspan><tspan dy="7">)</tspan></text><text x="56.3" y="18.9" font-size="12" fill="#1a1a1a">(a)</text><text x="76.4" y="20" font-size="14" fill="#1a1a1a" textLength="142" lengthAdjust="spacingAndGlyphs">Single InGaN QD layer</text><text x="56.3" y="191" font-size="12" fill="#1a1a1a">(b)</text><text x="76.4" y="192" font-size="14" fill="#1a1a1a" textLength="143.5" lengthAdjust="spacingAndGlyphs">Single InGaN QW layer</text><text x="56.3" y="361" font-size="11.5" fill="#1a1a1a">(c)</text><text x="72" y="362" font-size="14" fill="#1a1a1a">Comparison between (a) and (b)</text><text x="223" y="56.6" font-size="12.7" fill="#2222dc" stroke="#2222dc" stroke-width="0.25" textLength="81" lengthAdjust="spacingAndGlyphs">Electron density</text><line x1="263.8" y1="66.2" x2="288" y2="66.2" stroke="#1a1ad8" stroke-width="1.8"/><text transform="translate(290.2,70.0) scale(1,1.1)" font-size="10" fill="#1a1a1a" stroke="#1a1a1a" stroke-width="0.15">20</text><line x1="263.8" y1="77.5" x2="288" y2="77.5" stroke="#3c12bc" stroke-width="1.8"/><text transform="translate(290.2,81.3) scale(1,1.1)" font-size="10" fill="#1a1a1a" stroke="#1a1a1a" stroke-width="0.15">40</text><line x1="263.8" y1="88.9" x2="288" y2="88.9" stroke="#72128c" stroke-width="1.8"/><text transform="translate(290.2,92.7) scale(1,1.1)" font-size="10" fill="#1a1a1a" stroke="#1a1a1a" stroke-width="0.15">60</text><line x1="263.8" y1="100.2" x2="288" y2="100.2" stroke="#a40c4c" stroke-width="1.8"/><text transform="translate(290.2,104.0) scale(1,1.1)" font-size="10" fill="#1a1a1a" stroke="#1a1a1a" stroke-width="0.15">80</text><line x1="263.8" y1="111.6" x2="288" y2="111.6" stroke="#e60018" stroke-width="1.8"/><text transform="translate(290.2,115.4) scale(1,1.1)" font-size="10" fill="#1a1a1a" stroke="#1a1a1a" stroke-width="0.15">100</text><text x="266.5" y="133.8" font-size="10" fill="#333">×10<tspan dy="-4" font-size="6.5">10</tspan><tspan dy="4">cm</tspan><tspan dy="-4" font-size="6.5">-2</tspan></text><text x="237.8" y="209.4" font-size="12.7" fill="#2222dc" stroke="#2222dc" stroke-width="0.25" textLength="81" lengthAdjust="spacingAndGlyphs">Electron density</text><line x1="279" y1="220.9" x2="302.5" y2="220.9" stroke="#1a1ad8" stroke-width="1.8"/><text transform="translate(304.2,224.7) scale(1,1.1)" font-size="10" fill="#1a1a1a" stroke="#1a1a1a" stroke-width="0.15">570</text><line x1="279" y1="232.3" x2="302.5" y2="232.3" stroke="#3c12bc" stroke-width="1.8"/><text transform="translate(304.2,236.1) scale(1,1.1)" font-size="10" fill="#1a1a1a" stroke="#1a1a1a" stroke-width="0.15">640</text><line x1="279" y1="243.6" x2="302.5" y2="243.6" stroke="#72128c" stroke-width="1.8"/><text transform="translate(304.2,247.4) scale(1,1.1)" font-size="10" fill="#1a1a1a" stroke="#1a1a1a" stroke-width="0.15">710</text><line x1="279" y1="255.0" x2="302.5" y2="255.0" stroke="#a40c4c" stroke-width="1.8"/><text transform="translate(304.2,258.8) scale(1,1.1)" font-size="10" fill="#1a1a1a" stroke="#1a1a1a" stroke-width="0.15">780</text><line x1="279" y1="266.4" x2="302.5" y2="266.4" stroke="#e60018" stroke-width="1.8"/><text transform="translate(304.2,270.2) scale(1,1.1)" font-size="10" fill="#1a1a1a" stroke="#1a1a1a" stroke-width="0.15">850</text><text x="284" y="286" font-size="10" fill="#333">×10<tspan dy="-4" font-size="6.5">10</tspan><tspan dy="4">cm</tspan><tspan dy="-4" font-size="6.5">-2</tspan></text><text x="294" y="382.5" font-size="12" fill="#2020d8" stroke="#2020d8" stroke-width="0.25">Electron</text><text x="294" y="396.5" font-size="12" fill="#2020d8" stroke="#2020d8" stroke-width="0.25">density</text><line x1="336.8" y1="342.3" x2="336.8" y2="403" stroke="#2e2e2e" stroke-width="1.6"/><rect x="273.3" y="402.1" width="63.3" height="104.3" fill="#fff" stroke="#8a8a8a" stroke-width="1.5"/><line x1="273.5" y1="406.2" x2="292.5" y2="406.2" stroke="#e60018" stroke-width="1.8"/><text transform="translate(292.4,409.0) scale(0.84,1)" font-size="9.6" fill="#2a2a2a" stroke="#2a2a2a" stroke-width="0.12">QW: 850</text><line x1="273.5" y1="415.6" x2="292.5" y2="415.6" stroke="#a40c4c" stroke-width="1.8"/><text transform="translate(292.4,418.4) scale(0.84,1)" font-size="9.6" fill="#2a2a2a" stroke="#2a2a2a" stroke-width="0.12">QW: 780</text><line x1="273.5" y1="425.1" x2="292.5" y2="425.1" stroke="#72128c" stroke-width="1.8"/><text transform="translate(292.4,427.9) scale(0.84,1)" font-size="9.6" fill="#2a2a2a" stroke="#2a2a2a" stroke-width="0.12">QW: 710</text><line x1="273.5" y1="434.6" x2="292.5" y2="434.6" stroke="#3c12bc" stroke-width="1.8"/><text transform="translate(292.4,437.4) scale(0.84,1)" font-size="9.6" fill="#2a2a2a" stroke="#2a2a2a" stroke-width="0.12">QW: 640</text><line x1="273.5" y1="444.0" x2="292.5" y2="444.0" stroke="#1a1ad8" stroke-width="1.8"/><text transform="translate(292.4,446.8) scale(0.84,1)" font-size="9.6" fill="#2a2a2a" stroke="#2a2a2a" stroke-width="0.12">QW: 610</text><line x1="273.5" y1="453.4" x2="282.3" y2="453.4" stroke="#e60018" stroke-width="1.8"/><text transform="translate(292.4,456.2) scale(0.84,1)" font-size="9.6" fill="#2a2a2a" stroke="#2a2a2a" stroke-width="0.12">QD: 100</text><line x1="273.5" y1="462.9" x2="282.3" y2="462.9" stroke="#a40c4c" stroke-width="1.8"/><text transform="translate(292.4,465.7) scale(0.84,1)" font-size="9.6" fill="#2a2a2a" stroke="#2a2a2a" stroke-width="0.12">QD: 80</text><line x1="273.5" y1="472.3" x2="282.3" y2="472.3" stroke="#72128c" stroke-width="1.8"/><text transform="translate(292.4,475.1) scale(0.84,1)" font-size="9.6" fill="#2a2a2a" stroke="#2a2a2a" stroke-width="0.12">QD: 60</text><line x1="273.5" y1="481.8" x2="282.3" y2="481.8" stroke="#3c12bc" stroke-width="1.8"/><text transform="translate(292.4,484.6) scale(0.84,1)" font-size="9.6" fill="#2a2a2a" stroke="#2a2a2a" stroke-width="0.12">QD: 40</text><line x1="273.5" y1="491.2" x2="282.3" y2="491.2" stroke="#1a1ad8" stroke-width="1.8"/><text transform="translate(292.4,494.1) scale(0.84,1)" font-size="9.6" fill="#2a2a2a" stroke="#2a2a2a" stroke-width="0.12">QD: 20</text><text x="297" y="503.5" font-size="8" fill="#333" textLength="32" lengthAdjust="spacingAndGlyphs">×10<tspan dy="-3" font-size="5.2">10</tspan><tspan dy="3">cm</tspan><tspan dy="-3" font-size="5.2">-2</tspan></text></svg></body></html>
